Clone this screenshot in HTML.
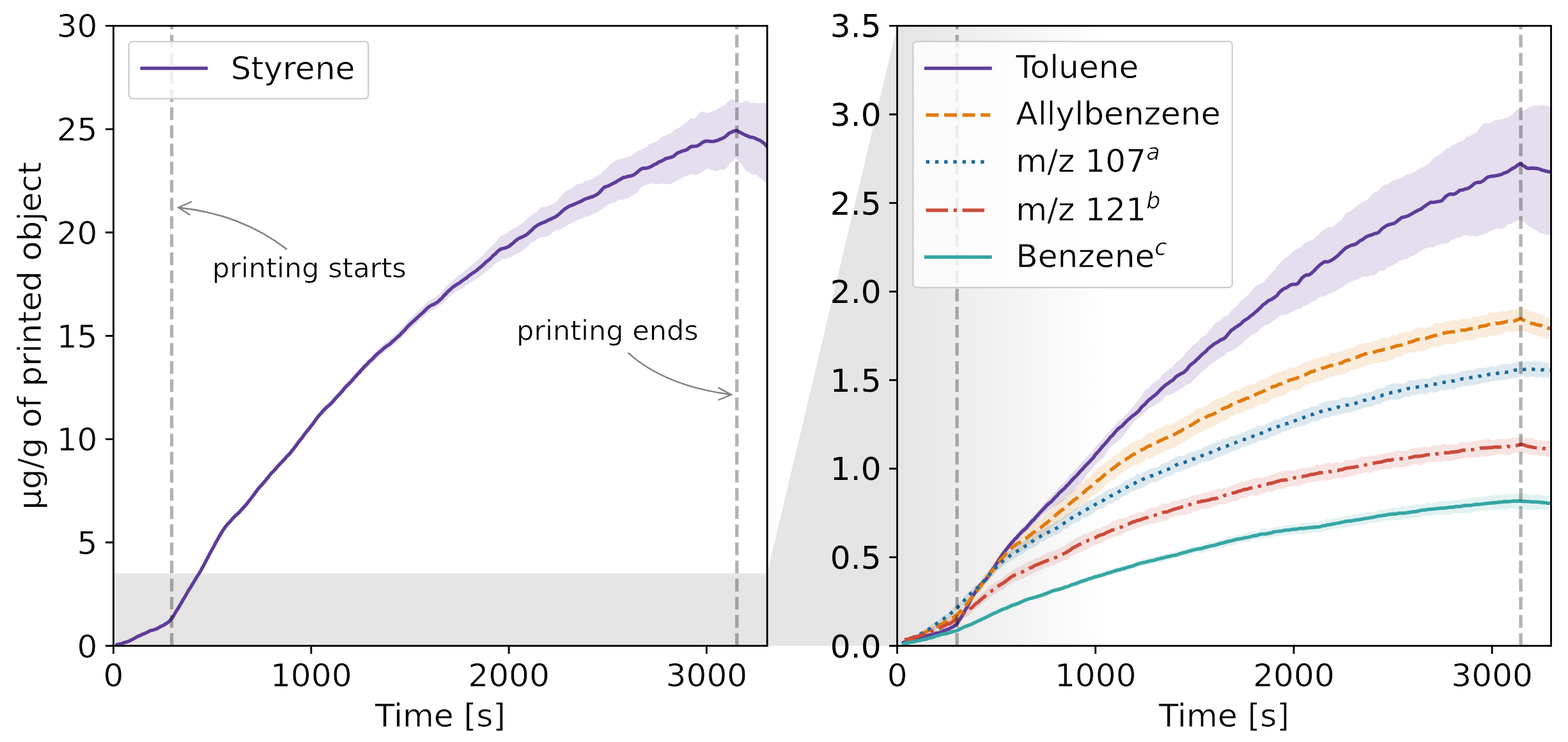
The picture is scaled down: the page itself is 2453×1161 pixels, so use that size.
<!DOCTYPE html>
<html><head><meta charset="utf-8"><title>Emission plot</title>
<style>html,body{margin:0;padding:0;background:#fff;}body{width:2453px;height:1161px;overflow:hidden;}svg{display:block;}</style>
</head><body>
<svg width="2453" height="1161" viewBox="0 0 2453 1161">
<defs>
<linearGradient id="gr" gradientUnits="userSpaceOnUse" x1="1403.6" y1="0" x2="1735" y2="0"><stop offset="0" stop-color="#e5e5e5"/><stop offset="1" stop-color="#ffffff"/></linearGradient>
<clipPath id="c1"><rect x="177.5" y="40.4" width="1022.7" height="970.1"/></clipPath>
<clipPath id="c2"><rect x="1403.6" y="40.4" width="1022.9" height="970.1"/></clipPath>
</defs>
<rect width="2453" height="1161" fill="#ffffff"/>
<polygon points="1200.2,897.3 1403.6,40.4 1403.6,1010.5 1200.2,1010.5" fill="#e5e5e5"/>
<g clip-path="url(#c1)">
<rect x="177.5" y="897.3" width="1022.7" height="113.2" fill="#e5e5e5"/>
<polygon points="183.5,1008 188.5,1006.6 193.5,1004.8 198.5,1003.9 203.5,1001.6 208.5,998.1 213.5,995.3 218.5,993.3 223.5,990.7 228.5,988.7 233.5,986 238.5,984.4 243.5,983.2 248.5,980.1 253.5,977.6 258.5,974.7 263.5,971.6 268.5,966.1 273.5,957.7 278.5,950.6 283.5,941.1 288.5,932.9 293.5,924.3 298.5,916.6 303.5,907.8 308.5,899.2 313.5,891.1 318.5,882.2 323.5,872.4 328.5,862.6 333.5,853.9 338.5,844.2 343.5,836.3 348.5,827 353.5,820.8 358.5,814.9 363.5,809.1 368.5,803.1 373.5,799.1 378.5,793.2 383.5,787.5 388.5,781.7 393.5,775.6 398.5,768.5 403.5,762 408.5,755.9 413.5,750.7 418.5,744.3 423.5,737.2 428.5,732.5 433.5,726.4 438.5,721.2 443.5,715.6 448.5,710.4 453.5,705.5 458.5,698.3 463.5,692.2 468.5,685.4 473.5,679.7 478.5,671.8 483.5,666 488.5,659.3 493.5,652.2 498.5,646.5 503.5,640 508.5,634.9 513.5,629.9 518.5,625.6 523.5,620 528.5,614.6 533.5,608.5 538.5,602.6 543.5,597.6 548.5,591.9 553.5,587 558.5,580.5 563.5,575.5 568.5,569.1 573.5,563.9 578.5,559 583.5,553.9 588.5,549 593.5,544.1 598.5,539.4 603.5,535.7 608.5,531.6 613.5,527 618.5,523.3 623.5,517.9 628.5,513.1 633.5,507.9 638.5,501.4 643.5,497.6 648.5,491.9 653.5,487.6 658.5,482.3 663.5,477.9 668.5,472.6 673.5,469.2 678.5,466.7 683.5,463.2 688.5,458.5 693.5,453 698.5,447.5 703.5,442.4 708.5,438.6 713.5,434.6 718.5,430.6 723.5,426.7 728.5,422.6 733.5,418.5 738.5,414.3 743.5,410.6 748.5,405.9 753.5,401.8 758.5,395.6 763.5,390.9 768.5,386 773.5,381.2 778.5,375.3 780,372.8 784,368.6 788,366.9 791.9,365.8 795.9,362.4 799.9,359.5 803.9,357.1 807.8,356.1 811.8,352.1 815.8,350.2 819.8,347.4 823.8,342.8 827.7,340.1 831.7,336.9 835.7,333.6 839.7,332 843.7,327.1 847.6,323.5 851.6,324.3 855.6,323 859.6,321.3 863.5,320 867.5,317.3 871.5,315.2 875.5,309.4 879.5,304.4 883.4,300.9 887.4,297.5 891.4,296.1 895.4,294.4 899.3,291.1 903.3,288.1 907.3,287.6 911.3,287 915.3,283 919.2,282.2 923.2,281.4 927.2,279.4 931.2,276.3 935.2,275.3 939.1,273 943.1,268.2 947.1,265.3 951.1,260.8 955,256.4 959,253.9 963,251.6 967,249.6 971,248.4 974.9,247.5 978.9,246.7 982.9,245.4 986.9,244 990.8,241.8 994.8,238.4 998.8,235.4 1002.8,234.3 1006.8,232.3 1010.7,230.5 1014.7,226.6 1018.7,223.7 1022.7,223.3 1026.7,221 1030.6,218.9 1034.6,215 1038.6,212.7 1042.6,212 1046.5,209.7 1050.5,208.4 1054.5,204.1 1058.5,201.6 1062.5,200.1 1066.4,196.7 1070.4,194.3 1074.4,190.9 1078.4,187.1 1082.3,184.8 1086.3,185.8 1090.3,181.9 1094.3,177.1 1098.3,174.2 1102.2,175.5 1106.2,177.3 1110.2,175.9 1114.2,174.1 1118.2,173.2 1122.1,170.3 1126.1,167.9 1130.1,166.2 1134.1,164.1 1138,160 1142,157.1 1146,154.5 1149.8,157.3 1153.7,159.1 1157.5,161 1161.3,160.7 1165.2,158 1169,157.2 1172.9,160.4 1176.8,161 1180.7,160.5 1184.6,161.3 1188.5,161.4 1192.4,161.3 1196.3,161 1200.2,163.4 1200.2,287.4 1196.1,284.4 1192,279.4 1187.8,276.9 1183.7,273.5 1179.6,272.8 1175.5,272 1171.4,269.3 1167.3,267.4 1163.2,261.4 1159,255.3 1154.9,251.7 1150.8,247.2 1146.8,251.7 1142.8,255.4 1138.8,260.4 1134.9,264.4 1130.9,266.1 1126.9,265.8 1122.9,267.3 1118.9,267.3 1114.9,266 1110.9,265.8 1106.9,263.6 1103,265.2 1099,268.5 1095,271.1 1091,273.4 1087,273 1083,272 1079,272.9 1075,275.2 1071.1,275.9 1067.1,279.1 1063.1,280.2 1059.1,282.3 1055.1,285.2 1051.1,287 1047.1,288.1 1043.1,288.3 1039.2,287.7 1035.2,286.9 1031.2,288.3 1027.2,288.1 1023.2,288.4 1019.2,286.5 1015.2,287.8 1011.3,289.2 1007.3,290.8 1003.3,293.1 999.3,297.6 995.3,303.4 991.3,304.8 987.3,307.1 983.3,309.9 979.4,310.6 975.4,312.4 971.4,312.3 967.4,313.1 963.4,315.8 959.4,318.1 955.4,318.3 951.4,320.3 947.5,323.1 943.5,325.8 939.5,329.3 935.5,331.8 931.5,333.2 927.5,335.1 923.5,337.2 919.5,338.6 915.6,339.1 911.6,342.3 907.6,342.4 903.6,344.3 899.6,346.6 895.6,347.9 891.6,350.1 887.7,352.2 883.7,354.5 879.7,356.7 875.7,359.7 871.7,359.1 867.7,361.3 863.7,364.5 859.7,368.3 855.8,369.6 851.8,370.9 847.8,371.5 843.8,371.7 839.8,374.6 835.8,377.7 831.8,378.5 827.8,383.1 823.9,387.5 819.9,390.4 815.9,392.5 811.9,395.9 807.9,397.2 803.9,398.8 799.9,402.1 795.9,403.2 792,405.2 788,405 784,406.5 780,409.7 778.5,410.1 773.5,414.1 768.5,419 763.5,421.9 758.5,426.4 753.5,430.4 748.5,433.9 743.5,436.9 738.5,440.6 733.5,444 728.5,447.1 723.5,450.9 718.5,453.9 713.5,456.2 708.5,459.8 703.5,463.7 698.5,468.6 693.5,473.4 688.5,477.6 683.5,482 678.5,484.5 673.5,486.9 668.5,490.6 663.5,496 658.5,499.5 653.5,504.7 648.5,509.3 643.5,513.5 638.5,517.3 633.5,523.2 628.5,528 623.5,532.8 618.5,537.2 613.5,541.5 608.5,546.2 603.5,548.8 598.5,553.6 593.5,556.9 588.5,561.1 583.5,566.9 578.5,571.4 573.5,576 568.5,581.2 563.5,586.5 558.5,591.4 553.5,597.4 548.5,602.6 543.5,607.6 538.5,613.4 533.5,618.5 528.5,624.3 523.5,629.9 518.5,635.1 513.5,639.6 508.5,644.2 503.5,650.3 498.5,654.8 493.5,662 488.5,668.5 483.5,675.1 478.5,680.4 473.5,688 468.5,694.1 463.5,700.2 458.5,707.3 453.5,713.2 448.5,718.7 443.5,724.1 438.5,729.3 433.5,734.5 428.5,740.1 423.5,745 418.5,752 413.5,757.8 408.5,762.8 403.5,768.5 398.5,774.9 393.5,781.6 388.5,788.9 383.5,795 378.5,799.6 373.5,804.9 368.5,809.1 363.5,815.1 358.5,820.1 353.5,826.3 348.5,833.5 343.5,840.8 338.5,849.9 333.5,858.9 328.5,868.1 323.5,878.2 318.5,886.7 313.5,896.7 308.5,904.4 303.5,912.7 298.5,920.6 293.5,928.2 288.5,936.7 283.5,945.3 278.5,953.4 273.5,961.2 268.5,969.9 263.5,975.1 258.5,978.5 253.5,981.3 248.5,983.4 243.5,985.2 238.5,987.6 233.5,988.3 228.5,991.6 223.5,993.8 218.5,995.4 213.5,997.9 208.5,1000.9 203.5,1003.1 198.5,1005.8 193.5,1006.4 188.5,1008.5 183.5,1009.5" fill="#5e3c99" fill-opacity="0.17"/>
<polyline points="183.5,1008.6 186.5,1007.8 189.6,1007.2 192.6,1006.3 195.7,1005 198.7,1004.3 201.7,1003.3 204.8,1001.7 207.8,1000.2 210.9,998.5 213.9,996.6 216.9,995.3 220,994.1 223,992.3 226.1,991.4 229.1,989.8 232.1,988.3 235.2,986.7 238.2,986.2 241.2,985.2 244.3,984.2 247.3,982.8 250.4,980.8 253.4,979.4 256.4,978 259.5,975.8 262.5,974.1 265.6,971.2 268.6,967.6 271.6,963.4 274.6,958 277.6,953.6 280.6,948.4 283.6,943.4 286.6,938.2 289.6,933.3 292.6,928 295.6,922.7 298.6,918.4 301.6,913.1 304.6,908.5 307.6,903.1 310.6,898.7 313.6,893.8 316.6,888.4 319.6,882.8 322.6,877 325.5,871.6 328.5,865.6 331.5,860.2 334.5,855 337.5,849 340.5,843.9 343.5,838.7 346.5,833.4 349.5,828.7 352.5,824.5 355.5,820.7 358.5,817.8 361.5,814.3 364.5,810.8 367.5,807.6 370.5,805 373.5,802.4 376.5,799 379.5,795.6 382.5,792.4 385.5,789.2 388.5,785.1 391.5,781.5 394.5,777.5 397.5,773.6 400.5,769.3 403.5,765.3 406.5,761.7 409.5,758.8 412.5,755.1 415.5,751.7 418.5,747.9 421.5,744.1 424.5,740.4 427.5,737.6 430.5,734.4 433.5,730.7 436.4,727.6 439.4,724.4 442.4,721.4 445.4,718.3 448.4,714.6 451.4,711.7 454.4,708.4 457.4,704.5 460.4,700.9 463.4,696.8 466.4,692.7 469.4,688.6 472.4,685.3 475.4,680.9 478.4,676.7 481.4,673.4 484.4,669.7 487.4,665.6 490.4,662 493.4,657.4 496.4,653.4 499.4,649.7 502.4,646.4 505.4,643 508.4,639.8 511.4,636.9 514.4,634.5 517.4,631.8 520.4,628.7 523.4,625.2 526.4,621.6 529.4,618.8 532.4,615.4 535.4,612.2 538.4,608.3 541.4,604.8 544.4,602.1 547.3,599.1 550.3,596 553.3,592.5 556.3,588.9 559.3,585.7 562.3,582.7 565.3,579 568.3,575.9 571.3,572.6 574.3,569.9 577.3,566.3 580.3,563.7 583.3,561.2 586.3,557.5 589.3,554.7 592.3,552 595.3,549.6 598.3,547 601.3,544.3 604.3,541.9 607.3,540.2 610.3,538.1 613.3,535.1 616.3,532.4 619.3,529.8 622.3,527.1 625.3,524.5 628.3,521.1 631.3,518.4 634.3,515.1 637.3,511.4 640.3,508.5 643.3,505.6 646.3,503 649.3,500.2 652.3,497.4 655.3,494.6 658.2,492 661.2,489.5 664.2,486.6 667.2,483.2 670.2,480.7 673.2,478.6 676.2,477 679.2,475.9 682.2,474 685.2,472.2 688.2,469.2 691.2,466.6 694.2,463 697.2,460 700.2,456.6 703.2,454 706.2,451.3 709.2,448.7 712.2,446.8 715.2,444.7 718.2,443.2 721.2,440.7 724.2,438.6 727.2,436.4 730.2,434.6 733.2,431.7 736.2,429.7 739.2,427.4 742.2,425.4 745.2,423.5 748.2,420.7 751.2,418.5 754.2,415.9 757.2,413.3 760.2,410.1 763.2,407.9 766.1,405.6 769.1,402.5 772.1,399.4 775.1,397.1 778.1,393.8 781.1,391.2 784.1,389.4 787.1,388.9 790.1,388.1 793.1,386.9 796.1,385.6 799.1,383.1 802.1,380.8 805.1,378 808.1,375.5 811.1,373.4 814.1,372 817.1,370.6 820.1,369.1 823.1,367.7 826.1,365.3 829.1,362.6 832.1,359.7 835.1,356.8 838.1,354.3 841.1,352.1 844.1,350.6 847.1,349.2 850.1,348 853.1,347.1 856.1,345.2 859.1,343.9 862.1,342.5 865.1,341.1 868.1,339.7 871.1,337.9 874.1,335.5 877,333 880,330 883,327.5 886,325.3 889,323.6 892,321.9 895,321.2 898,319.7 901,318.4 904,317.1 907,315.8 910,314.5 913,312.4 916,311.2 919,310.2 922,309.3 925,308.1 928,307.5 931,305.9 934,304.2 937,302 940,298.6 943,295.3 946,292.6 949,291.8 952,290.8 955,289.2 958,287.7 961,286.2 964,284.6 967,282.4 970,281 973,279 976,277.5 979,277.1 982,276 985,275.7 987.9,274.8 990.9,274 993.9,271.9 996.9,269.3 999.9,266.9 1002.9,264.4 1005.9,263.2 1008.9,263.2 1011.9,263 1014.9,262.1 1017.9,260.9 1020.9,259.2 1023.9,257.3 1026.9,256.3 1029.9,254 1032.9,252.8 1035.9,251.4 1038.9,249.8 1041.9,247.9 1044.9,247.4 1047.9,246.5 1050.9,245.9 1053.9,244.4 1056.9,241.8 1059.9,239.3 1062.9,238.2 1065.9,236.9 1068.9,236 1071.9,235.1 1074.9,234 1077.9,231.7 1080.9,229.5 1083.9,229 1086.9,228.9 1089.9,228.6 1092.9,227.3 1095.9,225.3 1098.8,223 1101.8,221.5 1104.8,220.6 1107.8,220.9 1110.8,221.2 1113.8,221.4 1116.8,221.4 1119.8,220.3 1122.8,219.7 1125.8,218.1 1128.8,217.2 1131.8,215.7 1134.8,213.7 1137.8,211 1140.8,208.4 1143.8,207 1146.8,205.6 1149.8,204.6 1152.8,204.2 1155.8,206.1 1158.7,207.6 1161.7,209.2 1164.7,210.7 1167.6,211.9 1170.6,213.2 1173.5,214.5 1176.5,214.8 1179.5,215.5 1182.4,216.9 1185.4,218.4 1188.3,219.5 1191.3,221.3 1194.3,223.5 1197.2,226 1200.2,229.6" fill="none" stroke="#5e3c99" stroke-width="5.38" stroke-linejoin="round" stroke-linecap="square"/>
<line x1="268.6" y1="1010.5" x2="268.6" y2="40.4" stroke="#000" stroke-opacity="0.3" stroke-width="5.38" stroke-dasharray="19.8 8.57"/>
<line x1="1152.8" y1="1010.5" x2="1152.8" y2="40.4" stroke="#000" stroke-opacity="0.3" stroke-width="5.38" stroke-dasharray="19.8 8.57"/>
</g>
<g clip-path="url(#c2)">
<rect x="1403.6" y="40.4" width="1022.9" height="970.1" fill="url(#gr)"/>
<polygon points="1413.5,1004.3 1418.5,1001.8 1423.5,1000.6 1428.5,997.8 1433.5,996.8 1438.5,995.3 1443.5,995.5 1448.5,993.1 1453.5,991.6 1458.5,991 1463.5,988.4 1468.5,988.7 1473.5,985.8 1478.5,984.2 1483.5,981.7 1488.5,979.2 1493.5,976.7 1498.5,971.5 1503.5,963.1 1508.5,953.7 1513.5,944.7 1518.5,936.1 1523.5,926.1 1528.5,919.2 1533.5,911.4 1538.5,907 1543.5,902.2 1548.5,893.3 1553.5,886.5 1558.5,879 1563.5,869.6 1568.5,862.3 1573.5,856.7 1578.5,849.1 1583.5,843.8 1588.5,837.7 1593.5,833.1 1598.5,826.3 1603.5,822.2 1608.5,816 1613.5,809.8 1618.5,805.5 1623.5,799.4 1628.5,793.8 1633.5,788.1 1638.5,782.5 1643.5,777.7 1648.5,771.8 1653.5,767.3 1658.5,760.2 1663.5,756.1 1668.5,750.5 1673.5,744.1 1678.5,738.8 1683.5,733.9 1688.5,727.7 1693.5,722 1698.5,717.3 1703.5,711 1708.5,707.1 1713.5,699.4 1718.5,693.9 1723.5,689.1 1728.5,682.5 1733.5,677 1738.5,670.9 1743.5,666.3 1748.5,660.6 1753.5,656.3 1758.5,650.4 1763.5,646.4 1768.5,640.4 1773.5,634.3 1778.5,628.8 1783.5,622.6 1788.5,615.3 1790,611.8 1794,608.9 1798,606.2 1802,600.9 1806,597.9 1810,595.6 1814,592.7 1818.1,586.5 1822.1,583.5 1826.1,580.1 1830.1,576.1 1834.1,574.2 1838.1,569.6 1842.1,565.2 1846.1,563 1850.1,558.8 1854.1,553.4 1858.1,548.8 1862.1,545.4 1866.1,539.8 1870.1,537.2 1874.2,534.4 1878.2,529.6 1882.2,526.8 1886.2,523.6 1890.2,518.7 1894.2,514.9 1898.2,509.1 1902.2,504.4 1906.2,504.1 1910.2,499.7 1914.2,495.5 1918.2,494.5 1922.2,491.8 1926.3,486.2 1930.3,482.6 1934.3,478.7 1938.3,475 1942.3,470.1 1946.3,467.6 1950.3,463.3 1954.3,459.4 1958.3,454.6 1962.3,450 1966.3,445.7 1970.3,445.3 1974.3,443.2 1978.4,439.9 1982.4,434.7 1986.4,430.1 1990.4,425.3 1994.4,421.3 1998.4,415.8 2002.4,411.8 2006.4,407.5 2010.4,403.5 2014.4,401.6 2018.4,398.1 2022.4,394.7 2026.4,390.9 2030.4,388.4 2034.5,387 2038.5,383.3 2042.5,379.5 2046.5,378.2 2050.5,375.9 2054.5,375 2058.5,370 2062.5,368.6 2066.5,362.5 2070.5,360 2074.5,357.4 2078.5,355.1 2082.5,355.7 2086.6,354.3 2090.6,350 2094.6,347.2 2098.6,344.1 2102.6,338 2106.6,333.3 2110.6,331.2 2114.6,329.2 2118.6,325.7 2122.6,322.4 2126.6,319.6 2130.6,315.7 2134.6,314.7 2138.7,313.1 2142.7,308.8 2146.7,303.4 2150.7,300.7 2154.7,299.6 2158.7,295.9 2162.7,291.8 2166.7,288.8 2170.7,288.1 2174.7,286.1 2178.7,282.7 2182.7,281.2 2186.7,280 2190.7,279.2 2194.8,277.3 2198.8,273.8 2202.8,272.6 2206.8,271.5 2210.8,269.8 2214.8,267.7 2218.8,265 2222.8,262.5 2226.8,261.5 2230.8,258.8 2234.8,256.5 2238.8,251.8 2242.8,247.4 2246.9,244.3 2250.9,242.6 2254.9,240.2 2258.9,235.9 2262.9,232.3 2266.9,232 2270.9,226.9 2274.9,226.3 2278.9,224.2 2282.9,221.3 2286.9,220.8 2290.9,218.4 2294.9,213.7 2299,213.9 2303,210.5 2307,209 2311,206.1 2315,200.1 2319,195.4 2323,191.9 2327,192.7 2331,192.9 2335,190.3 2339,188 2343,187.1 2347,187.3 2351,186 2355.1,184.7 2359.1,183.2 2363.1,180.5 2367.1,178.5 2371.1,173.2 2375.1,169.9 2379.1,172.6 2383,173.5 2387,171.4 2390.9,168.3 2394.9,166.7 2398.8,165.2 2402.8,165.2 2406.8,165.4 2410.7,164.9 2414.7,164.6 2418.6,165.3 2422.6,165.6 2426.5,168.9 2426.5,369.6 2422.6,366.8 2418.6,367.8 2414.7,365.4 2410.7,365.6 2406.8,363.5 2402.8,360.1 2398.8,358.4 2394.9,356 2390.9,353.5 2387,349.2 2383,346.9 2379.1,344.7 2375.1,344.8 2371.1,346.8 2367.1,348.1 2363.1,350.6 2359.1,350.3 2355.1,355.2 2351.1,357.5 2347.1,358 2343.1,357.3 2339.1,358 2335.1,360.6 2331.1,361.6 2327.1,364.5 2323.1,365.5 2319.1,367.8 2315.1,368.1 2311.1,369.9 2307.1,369.8 2303.1,369.3 2299.1,369.7 2295.1,367.5 2291.1,368.4 2287.1,369.9 2283.1,372.1 2279.1,372.1 2275.1,373.9 2271.1,375.3 2267.1,379.2 2263.1,380.8 2259,381.1 2255,380.7 2251,383.4 2247,383.7 2243,386.9 2239,387.4 2235,386.8 2231,388.2 2227,389.7 2223,393.2 2219,394.4 2215,397.9 2211,400 2207,400.7 2203,404.1 2199,405.6 2195,406.8 2191,406.9 2187,409.2 2183,413.2 2179,415.3 2175,416.7 2171,418.3 2167,422.2 2163,423 2159,423.1 2155,426.7 2151,430 2147,431.4 2143,431 2139,433.8 2135,432.7 2131,433.5 2127,435.8 2123,437.3 2119,438.4 2115,439.7 2111,441.7 2107,444.1 2103,446.8 2099,450.1 2095,452.2 2091,454.9 2087,456.6 2083,458.5 2079,459.3 2075,462.6 2071,463 2067,464 2063,465.6 2059,470.1 2055,471 2051,472.5 2047,476.9 2043,478.3 2039,478.7 2035,483.3 2031,483.3 2027,483.9 2022.9,487.2 2018.9,488.4 2014.9,491.2 2010.9,492.7 2006.9,492.7 2002.9,494.1 1998.9,496.4 1994.9,500.4 1990.9,502.3 1986.9,505.9 1982.9,508.3 1978.9,508.5 1974.9,511.7 1970.9,515.1 1966.9,519.3 1962.9,521.7 1958.9,523.1 1954.9,526.7 1950.9,530.6 1946.9,532.4 1942.9,538.3 1938.9,540.6 1934.9,544.3 1930.9,546.2 1926.9,548.7 1922.9,549.9 1918.9,552.6 1914.9,556.9 1910.9,557.5 1906.9,561.2 1902.9,564.2 1898.9,566 1894.9,569.7 1890.9,572.4 1886.9,576.5 1882.9,579.5 1878.9,583 1874.9,586.4 1870.9,591.2 1866.9,595 1862.9,599.5 1858.9,600.9 1854.9,602.3 1850.9,607.2 1846.9,608.1 1842.9,611.6 1838.9,612.9 1834.9,616.3 1830.9,617.7 1826.9,617.6 1822.9,620.3 1818.9,624.5 1814.9,629.1 1810.9,631.4 1806.9,633.6 1802.9,636.6 1798.9,637.8 1794.9,641.9 1790.9,645.5 1786.9,649.6 1782.8,653 1778.8,656 1774.8,659.2 1770.8,664.2 1766.8,669.3 1762.8,675.2 1758.8,679.8 1754.8,685.2 1750.8,688.7 1746.8,692.4 1742.8,695 1738.8,698.2 1734.8,702.6 1730.8,708.4 1726.8,715.3 1722.8,719.3 1718.8,722.5 1714.8,725.7 1710.8,730.2 1706.8,735.7 1702.8,739.2 1698.8,745.1 1694.8,750.6 1690.8,756.3 1686.8,759.3 1682.8,765.5 1678.8,769.4 1674.8,773 1670.8,776.1 1666.8,780 1663.5,783.5 1658.5,786.1 1653.5,790.5 1648.5,793.3 1643.5,796.5 1638.5,800.2 1633.5,803.9 1628.5,809 1623.5,813.4 1618.5,819.4 1613.5,823.4 1608.5,829.2 1603.5,833.6 1598.5,836.4 1593.5,842.9 1588.5,847.5 1583.5,852.5 1578.5,859.7 1573.5,864.6 1568.5,871.5 1563.5,878.8 1558.5,887.4 1553.5,894.3 1548.5,901.4 1543.5,908.9 1538.5,914 1533.5,919.7 1528.5,925.1 1523.5,933 1518.5,943.1 1513.5,952 1508.5,960.2 1503.5,968.2 1498.5,976.5 1493.5,981.3 1488.5,984.5 1483.5,987.1 1478.5,989.4 1473.5,990.3 1468.5,993.3 1463.5,993.6 1458.5,995.1 1453.5,995.5 1448.5,997.4 1443.5,997.4 1438.5,999.7 1433.5,1000.6 1428.5,1001.6 1423.5,1002.9 1418.5,1004.8 1413.5,1006.5" fill="#5e3c99" fill-opacity="0.17"/>
<polygon points="1414,1004.4 1419,1004.5 1424,999.2 1429,995.3 1434,994.1 1439,989.2 1444,986.5 1449,986.1 1454,984.6 1459,980.9 1464,976.5 1469,974.4 1474,970.4 1479,966.8 1484,965.5 1489,962.1 1494,958.2 1499,954 1504,950.1 1509,943.3 1514,935.5 1519,928.8 1524,923.7 1529,917 1534,911.1 1539,899.5 1544,895.7 1549,889.4 1554,879.5 1559,874.9 1564,865.2 1569,862.9 1574,853.3 1579,847.8 1584,845.6 1589,840.3 1594,835.7 1599,832 1604,828 1609,824.9 1614,823.6 1619,817.4 1624,813.4 1629,812.1 1634,804.7 1639,801.3 1644,799 1649,792.8 1654,787 1659,783.5 1664,780.5 1669,778.6 1674,772 1679,765.9 1684,765.1 1689,757.7 1694,755.8 1699,748.7 1704,747.7 1709,741.8 1714,735.6 1719,732.2 1724,728.2 1729,724.7 1734,719 1739,714.9 1744,713.2 1749,709.1 1754,706.9 1759,700.4 1764,698.5 1769,693.8 1774,692.4 1779,688.3 1784,688.2 1789,684.6 1794,679.1 1799,676.7 1804,676.8 1809,671.5 1814,670.8 1819,668 1824,664.4 1829,665.3 1834,663.3 1839,661 1844,656.3 1849,655.8 1854,651.3 1859,650.1 1864,646.3 1869,643 1874,637.7 1879,638.8 1884,636.2 1889,633.5 1894,630.3 1899,626.6 1904,623.8 1909,622.7 1914,621 1919,618.9 1924,614.8 1929,612.3 1934,609.6 1939,610.5 1944,606.4 1949,603.9 1954,602 1959,601.6 1964,600.1 1969,596.5 1974,593 1979,593.6 1984,590.9 1989,586.6 1994,585.5 1999,582.4 2004,582.6 2009,579.1 2014,579.4 2019,573.9 2024,575.8 2029,573.6 2034,570.4 2039,567.3 2044,566.8 2049,565.5 2054,561.3 2059,561.1 2064,559.3 2069,558.8 2074,557.1 2079,554.3 2084,551.4 2089,552.9 2094,549.7 2099,550.3 2104,547.2 2109,545 2114,544.8 2119,543.2 2124,538.8 2129,538.6 2134,535.9 2139,536.4 2144,536.1 2149,533.8 2154,532.3 2159,531 2164,527.8 2169,529.9 2174,527.1 2179,524.6 2184,524.9 2189,520.8 2194,521.6 2199,519.3 2204,519.1 2209,517.6 2214,513.9 2219,511.9 2224,513.3 2229,513.5 2234,512.2 2239,510.5 2244,506.1 2249,505.6 2254,505.7 2259,504.7 2264,501.7 2269,503.3 2274,500.1 2279,502.7 2284,500.1 2289,498.8 2294,498.7 2299,498.9 2304,495.8 2309,495.3 2314,494.8 2319,492.9 2324,493.7 2329,489.2 2334,488.4 2339,489.7 2344,488.3 2349,485.8 2354,488.1 2359,486.4 2364,484.1 2369,485.3 2374,482.1 2379,479.3 2384,482 2389,484.5 2394,487.5 2399,488.3 2404,490.7 2409,490.4 2414,493.8 2419,496.3 2424,497.6 2424,530.1 2419,530.4 2414,528.4 2409,527.1 2404,524.3 2399,523.5 2394,522.2 2389,519.4 2384,518.7 2379,517 2374,518.3 2369,519 2364,519.4 2359,518.6 2354,520.2 2349,522.8 2344,522.9 2339,525.4 2334,525 2329,525.4 2324,528.9 2319,527.8 2314,527.7 2309,530.5 2304,532.8 2299,532.5 2294,531.9 2289,534.2 2284,534.1 2279,536.5 2274,538.2 2269,539.1 2264,537.5 2259,539.2 2254,540.9 2249,543 2244,543 2239,542.8 2234,546.1 2229,548.6 2224,549.8 2219,547.6 2214,551.5 2209,550.9 2204,551.9 2199,553.3 2194,558.3 2189,558.1 2184,558.8 2179,562.8 2174,564 2169,565.8 2164,566.5 2159,567.3 2154,568.7 2149,568 2144,570.2 2139,572.2 2134,572.8 2129,576 2124,576.4 2119,578.7 2114,577.9 2109,583 2104,584.2 2099,586.2 2094,586.6 2089,587.4 2084,590 2079,589.9 2074,591.9 2069,596.2 2064,596.3 2059,597.3 2054,597.9 2049,600.2 2044,602.2 2039,605 2034,609.6 2029,610.4 2024,609.8 2019,611.1 2014,614.7 2009,618.7 2004,619.6 1999,620.8 1994,622.4 1989,623.9 1984,629.6 1979,631.4 1974,632.3 1969,633.3 1964,636 1959,640 1954,640.9 1949,643.3 1944,646.2 1939,647.6 1934,647.4 1929,651.8 1924,651.8 1919,658.2 1914,658.2 1909,659.7 1904,664 1899,667.3 1894,669.9 1889,670.9 1884,672.8 1879,676.3 1874,678 1869,681.1 1864,683.3 1859,686.9 1854,690.8 1849,693.7 1844,695.6 1839,699.5 1834,701.1 1829,704 1824,704.3 1819,708.7 1814,709.8 1809,712 1804,715.9 1799,718.2 1794,716.5 1789,721.7 1784,724.2 1779,727.6 1774,727.6 1769,731.4 1764,733.5 1759,737.7 1754,740.2 1749,743.8 1744,750.1 1739,751.1 1734,756.6 1729,758.7 1724,765.5 1719,768.9 1714,773.8 1709,774.9 1704,780.7 1699,785.7 1694,790.1 1689,790.6 1684,797.4 1679,798.1 1674,805.1 1669,808.2 1664,811.9 1659,815.7 1654,819.3 1649,821.8 1644,826.7 1639,830.6 1634,836.9 1629,839.6 1624,842.1 1619,847.2 1614,850.1 1609,851.8 1604,855.5 1599,860 1594,863 1589,864.3 1584,866.9 1579,870.7 1574,876.1 1569,883.8 1564,887.1 1559,893.2 1554,901.3 1549,905.9 1544,912.1 1539,917.8 1534,927.4 1529,931.2 1524,937.6 1519,942.6 1514,949.1 1509,956.1 1504,962.6 1499,965.2 1494,970.2 1489,973.4 1484,977.4 1479,978.3 1474,979.8 1469,981.2 1464,984 1459,988.3 1454,991.5 1449,989.9 1444,995.3 1439,995.4 1434,999.6 1429,1000.9 1424,1003.3 1419,1005.9 1414,1007.4" fill="#e07b0a" fill-opacity="0.15"/>
<polygon points="1414,1003.8 1419,1001.5 1424,997 1429,994.8 1434,993.2 1439,989.9 1444,986.4 1449,983.2 1454,979.7 1459,975.2 1464,972.7 1469,970.5 1474,964.3 1479,961.8 1484,959.9 1489,952.7 1494,948.4 1499,945 1504,939.9 1509,932.6 1514,927.9 1519,922.9 1524,917.8 1529,914.3 1534,909.9 1539,902.7 1544,897.6 1549,889.6 1554,884.2 1559,880.6 1564,873.4 1569,870 1574,865.9 1579,862 1584,857.4 1589,854.3 1594,850.6 1599,848.4 1604,844 1609,841.2 1614,838.2 1619,835 1624,831.1 1629,828.4 1634,826.8 1639,822 1644,821.9 1649,817.8 1654,814.2 1659,813.6 1664,808.7 1669,804.6 1674,802.7 1679,797.5 1684,795.8 1689,791.9 1694,790.2 1699,786 1704,783.2 1709,781.6 1714,778.8 1719,775 1724,773.5 1729,768.5 1734,766.5 1739,764.2 1744,762.1 1749,760.6 1754,756.8 1759,753 1764,751.3 1769,747.5 1774,746.1 1779,741 1784,742.1 1789,739.2 1794,735.9 1799,733.3 1804,731.9 1809,731.6 1814,728.2 1819,724.7 1824,724.2 1829,721.1 1834,718.8 1839,715.3 1844,713.5 1849,713.6 1854,712.6 1859,707.9 1864,707.1 1869,706.4 1874,703.6 1879,703.1 1884,698.8 1889,697.1 1894,695.1 1899,693.7 1904,691.1 1909,689.7 1914,686.5 1919,687.1 1924,682.7 1929,682.3 1934,680.7 1939,679.2 1944,676.4 1949,675.4 1954,673 1959,670.5 1964,668.8 1969,666.5 1974,666.6 1979,665.1 1984,660.8 1989,660.4 1994,656.4 1999,656.5 2004,654.2 2009,651.8 2014,650.3 2019,648.1 2024,648 2029,644.1 2034,644.1 2039,640.1 2044,640.2 2049,636.7 2054,635.8 2059,635.6 2064,632.2 2069,629.8 2074,628.7 2079,627.6 2084,626.8 2089,625.5 2094,625.8 2099,622 2104,622.3 2109,621.8 2114,621.4 2119,619.8 2124,618 2129,615.8 2134,615.1 2139,614.2 2144,613.1 2149,612.1 2154,608.3 2159,608 2164,606.9 2169,603.1 2174,601.8 2179,600.3 2184,599.9 2189,599.9 2194,599.9 2199,598.9 2204,594.9 2209,595.1 2214,595 2219,593.5 2224,591.9 2229,592.2 2234,592.4 2239,590.7 2244,588.5 2249,588.8 2254,585.5 2259,586.4 2264,586.3 2269,584.5 2274,585.3 2279,583.4 2284,582.7 2289,580.1 2294,579.7 2299,578 2304,579.8 2309,576.9 2314,575.4 2319,575.9 2324,575.6 2329,574.2 2334,573.2 2339,574.2 2344,571.7 2349,569.8 2354,569.4 2359,569.8 2364,570.1 2369,566.9 2374,566.7 2379,566.8 2384,566.7 2389,564.8 2394,566.3 2399,564.9 2404,565.8 2409,565.6 2414,567.1 2419,567.5 2424,568.7 2424,591.2 2419,591.1 2414,591.1 2409,589.5 2404,591.5 2399,589.7 2394,589.4 2389,590.5 2384,589 2379,589.1 2374,591.1 2369,591.9 2364,592.2 2359,593.7 2354,593.8 2349,594.5 2344,595.6 2339,596.2 2334,597.3 2329,597.6 2324,599.7 2319,598.5 2314,601.3 2309,601.4 2304,603.2 2299,603.2 2294,604.3 2289,603.7 2284,606.4 2279,606.5 2274,609.7 2269,608.6 2264,610.1 2259,611.1 2254,610.1 2249,613 2244,614.4 2239,613 2234,615.8 2229,617.3 2224,615.4 2219,616.8 2214,618 2209,618.3 2204,621 2199,620.2 2194,623.3 2189,625 2184,625.6 2179,625.1 2174,625.7 2169,627.3 2164,628.8 2159,632.4 2154,632.2 2149,635.3 2144,636.6 2139,636.9 2134,637.8 2129,640.1 2124,641.3 2119,643.3 2114,644.5 2109,646.1 2104,646.1 2099,647.8 2094,649.1 2089,649.9 2084,650.4 2079,653.2 2074,653.1 2069,654.6 2064,658.2 2059,659.6 2054,659.3 2049,661.8 2044,664.1 2039,666.5 2034,666.8 2029,668.2 2024,670.1 2019,672.1 2014,674.2 2009,674.8 2004,677 1999,679.8 1994,681.9 1989,682.7 1984,686.3 1979,688.1 1974,689 1969,689.9 1964,693.8 1959,694 1954,696.6 1949,698.1 1944,699.4 1939,702 1934,704.6 1929,705.2 1924,707.7 1919,711.1 1914,711.1 1909,714.4 1904,716 1899,718.3 1894,721.2 1889,721.7 1884,722.4 1879,724.1 1874,727.7 1869,729.1 1864,729.9 1859,732.9 1854,734.5 1849,736.8 1844,738.1 1839,738.6 1834,743.3 1829,744.9 1824,746.5 1819,749.1 1814,751.6 1809,754 1804,754.8 1799,755.5 1794,759.6 1789,762.1 1784,764.7 1779,765.9 1774,768.3 1769,770.3 1764,773.3 1759,776.5 1754,778.3 1749,783.2 1744,784.8 1739,788.2 1734,788.3 1729,793.1 1724,795.7 1719,797.1 1714,799.5 1709,804.3 1704,807.2 1699,809.7 1694,809.7 1689,815.5 1684,817.6 1679,819.5 1674,823 1669,826.7 1664,827.8 1659,834 1654,836.1 1649,837 1644,840.4 1639,842.3 1634,846.6 1629,847 1624,852.3 1619,855.2 1614,858.2 1609,859.7 1604,863.4 1599,867.2 1594,868.8 1589,872.9 1584,875.4 1579,879.5 1574,882.4 1569,885.8 1564,890.9 1559,894.4 1554,899 1549,903.9 1544,911 1539,915.8 1534,921.7 1529,927.4 1524,928.7 1519,934.1 1514,939.1 1509,945.3 1504,948.3 1499,953.5 1494,958.4 1489,962.7 1484,968.4 1479,968.8 1474,974.6 1469,975.4 1464,979.7 1459,983.5 1454,988 1449,991 1444,992.4 1439,994.9 1434,997.2 1429,1000.3 1424,1001.5 1419,1002.9 1414,1006.9" fill="#1d6a9c" fill-opacity="0.15"/>
<polygon points="1415,997 1420,997.4 1425,994 1430,992.7 1435,992.6 1440,990.1 1445,987.3 1450,986.9 1455,982.4 1460,980.8 1465,980.6 1470,978.4 1475,975.7 1480,971.1 1485,969.7 1490,966.7 1495,962.6 1500,958.2 1505,955.8 1510,952.3 1515,947.4 1520,942.2 1525,938.3 1530,933.7 1535,929 1540,925.8 1545,920.2 1550,916.5 1555,912.5 1560,908.4 1565,907.3 1570,903.5 1575,897.6 1580,895.7 1585,892 1590,888.4 1595,887.2 1600,883.7 1605,881.9 1610,877.9 1615,877.3 1620,873.2 1625,872.4 1630,869.5 1635,867.2 1640,864.8 1645,862.8 1650,860.5 1655,859.5 1660,855.9 1665,854.4 1670,850.4 1675,847.4 1680,844.3 1685,841.1 1690,839.4 1695,835.9 1700,834.7 1705,832.6 1710,830.8 1715,827 1720,826.9 1725,823.6 1730,822.8 1735,819.8 1740,816.5 1745,815 1750,812.2 1755,811 1760,810.1 1765,808.5 1770,805.5 1775,803.5 1780,801.9 1785,801.8 1790,799.8 1795,796.8 1800,794.3 1805,794.2 1810,793.8 1815,789.8 1820,788.1 1825,788.1 1830,787 1835,783.4 1840,784.6 1845,782 1850,779.9 1855,778.8 1860,778.2 1865,775.5 1870,773.7 1875,773.4 1880,772.7 1885,769.9 1890,770.8 1895,767.7 1900,766.9 1905,764.9 1910,765.1 1915,763.6 1920,763 1925,759.2 1930,759.3 1935,756.4 1940,754.4 1945,755 1950,752.2 1955,751 1960,748.6 1965,748.2 1970,747.2 1975,747.3 1980,746.1 1985,743.7 1990,742.8 1995,741.5 2000,739.5 2005,737.6 2010,736.6 2015,736.1 2020,736.2 2025,735.9 2030,733.8 2035,732.4 2040,732.4 2045,732.7 2050,730.8 2055,730.4 2060,726.7 2065,728.1 2070,726.6 2075,725 2080,723.6 2085,725.6 2090,722.4 2095,723.4 2100,723 2105,718.9 2110,720.5 2115,719.4 2120,718.3 2125,716.9 2130,714.4 2135,715.2 2140,713.9 2145,713.1 2150,712.9 2155,711.7 2160,710.5 2165,710 2170,708.9 2175,707.9 2180,706.9 2185,704.5 2190,704.9 2195,705.8 2200,704.4 2205,703.7 2210,701.1 2215,700.1 2220,700.7 2225,699.7 2230,698.7 2235,700.1 2240,697.3 2245,696.6 2250,696.6 2255,695.8 2260,694.6 2265,696.1 2270,695.4 2275,695.2 2280,695.1 2285,691.3 2290,691.7 2295,692.7 2300,691.7 2305,690.5 2310,689.5 2315,689.2 2320,687.6 2325,687.3 2330,686.8 2335,688.9 2340,687.8 2345,686.4 2350,686.6 2355,687.6 2360,685.9 2365,685.1 2370,684.3 2375,685.1 2380,681.5 2385,684.9 2390,685.5 2395,685.2 2400,687.1 2405,689.5 2410,687.8 2415,690.1 2420,690.1 2425,690.1 2425,716 2420,714.5 2415,713.2 2410,714 2405,711.9 2400,711.9 2395,711.9 2390,709.7 2385,708.9 2380,708.7 2375,707.8 2370,708.3 2365,710.5 2360,711.9 2355,712.4 2350,710.7 2345,711 2340,711.3 2335,712 2330,714.1 2325,714.2 2320,714.1 2315,715.5 2310,715.7 2305,715.3 2300,716.1 2295,716.2 2290,717 2285,718.4 2280,718.4 2275,720.8 2270,720.9 2265,722.5 2260,720.5 2255,723.2 2250,721.9 2245,723 2240,722.8 2235,722.9 2230,723.9 2225,727.3 2220,728.2 2215,726.2 2210,727 2205,729.8 2200,729.9 2195,731.9 2190,731.6 2185,731.3 2180,731.6 2175,734.2 2170,732.7 2165,734.2 2160,735.6 2155,736.4 2150,737 2145,739.5 2140,739.5 2135,739.2 2130,741.9 2125,741.6 2120,743.9 2115,744.7 2110,745.9 2105,747.1 2100,748.2 2095,748.4 2090,747.7 2085,750.2 2080,750.8 2075,751.7 2070,752.8 2065,751.9 2060,753.9 2055,754.2 2050,754.5 2045,755.8 2040,757.6 2035,759.9 2030,760.7 2025,760.6 2020,761.3 2015,761.8 2010,765 2005,764.8 2000,765.8 1995,766.4 1990,770 1985,768.9 1980,771.3 1975,771.9 1970,774.8 1965,775.7 1960,775 1955,775.3 1950,779.4 1945,779 1940,780.6 1935,783.4 1930,784.5 1925,785.3 1920,787.9 1915,789.5 1910,788.6 1905,790.2 1900,791.6 1895,795 1890,795.3 1885,796.3 1880,795.6 1875,799.2 1870,799.2 1865,801.8 1860,804 1855,805.3 1850,806.3 1845,806.7 1840,807.4 1835,809 1830,810.6 1825,814.7 1820,815 1815,816 1810,818.9 1805,819.1 1800,819.3 1795,821.7 1790,822.6 1785,824.1 1780,825.6 1775,827.8 1770,830.2 1765,831.2 1760,832.7 1755,837.4 1750,837.6 1745,839.7 1740,840.9 1735,843.3 1730,845.2 1725,849 1720,850.5 1715,852.5 1710,853.7 1705,856.5 1700,860.1 1695,860.7 1690,864.3 1685,865.5 1680,868.3 1675,870.6 1670,875.9 1665,875.9 1660,879.1 1655,881.3 1650,883.9 1645,884.6 1640,887.7 1635,888.2 1630,891.6 1625,893.3 1620,895.1 1615,898.1 1610,900.7 1605,903.1 1600,905.7 1595,906.7 1590,909.2 1585,909.6 1580,914.6 1575,916.4 1570,922.3 1565,923.5 1560,927.7 1555,930.3 1550,933.5 1545,938 1540,941.6 1535,945.7 1530,950.4 1525,953 1520,959 1515,962.9 1510,966 1505,970 1500,971.6 1495,976.4 1490,979.3 1485,983.2 1480,985 1475,986.9 1470,989.4 1465,991.4 1460,993.2 1455,993.1 1450,995.6 1445,996.7 1440,997.6 1435,998.8 1430,1000.5 1425,1001.2 1420,1004.5 1415,1004.4" fill="#cc4b3a" fill-opacity="0.15"/>
<polygon points="1413.5,1005.6 1418.5,1005.4 1423.5,1003.5 1428.5,1003.6 1433.5,1001.4 1438.5,1000.5 1443.5,998.8 1448.5,999.4 1453.5,996.5 1458.5,996 1463.5,994.1 1468.5,992 1473.5,990.1 1478.5,989.1 1483.5,989.6 1488.5,988.2 1493.5,986 1498.5,984.3 1503.5,981.6 1508.5,978.2 1513.5,977.8 1518.5,974.5 1523.5,972.1 1528.5,970.3 1533.5,968.6 1538.5,965.1 1543.5,963.5 1548.5,960.6 1553.5,957.7 1558.5,955.8 1563.5,953.1 1568.5,951.1 1573.5,949.1 1578.5,947.4 1583.5,943.5 1588.5,943.2 1593.5,939.9 1598.5,939.3 1603.5,935.9 1608.5,935.1 1613.5,932.7 1618.5,931.7 1623.5,929.5 1628.5,927.5 1633.5,927.5 1638.5,924.1 1643.5,922.2 1648.5,919.8 1653.5,918.8 1658.5,918.7 1663.5,915.8 1668.5,915.4 1673.5,913.1 1678.5,910.8 1683.5,909.9 1688.5,907.2 1693.5,905 1698.5,904.6 1703.5,902.1 1708.5,901.1 1713.5,897.8 1718.5,897 1723.5,895.3 1728.5,893.5 1733.5,891.4 1738.5,890.9 1743.5,888.9 1748.5,887.1 1753.5,886.3 1758.5,884.4 1763.5,883.7 1768.5,882.1 1773.5,880.7 1778.5,878 1783.5,877 1788.5,874.5 1793.5,873.7 1798.5,873.8 1803.5,871.2 1808.5,871.4 1813.5,868.4 1818.5,867.6 1823.5,867.2 1828.5,866.3 1833.5,864.8 1838.5,862.5 1843.5,862 1848.5,860 1853.5,858.8 1858.5,856.8 1863.5,855.2 1868.5,854.6 1873.5,854.2 1878.5,853.4 1883.5,851.8 1888.5,849.4 1893.5,847.9 1898.5,846.4 1903.5,846.8 1908.5,844.5 1913.5,843.2 1918.5,841.3 1923.5,839.4 1928.5,839.3 1933.5,837.5 1938.5,837.3 1943.5,835.1 1948.5,835.1 1953.5,833.4 1958.5,831.4 1963.5,830.6 1968.5,830.7 1973.5,827.8 1978.5,828.5 1983.5,827.9 1988.5,826.9 1993.5,824.7 1998.5,824.6 2003.5,823.9 2008.5,822.3 2013.5,821.5 2018.5,821.4 2023.5,820.2 2028.5,820.9 2033.5,818.5 2038.5,818.3 2043.5,817.9 2048.5,817.7 2053.5,817.3 2058.5,816.7 2063.5,816 2068.5,814.3 2073.5,813 2078.5,812.1 2083.5,812.2 2088.5,810.5 2093.5,809.9 2098.5,808.6 2103.5,808.4 2108.5,806.5 2113.5,807.6 2118.5,804.6 2123.5,805.3 2128.5,803.3 2133.5,802.2 2138.5,801.6 2143.5,801.3 2148.5,800.9 2153.5,799.5 2158.5,797.3 2163.5,798 2168.5,796.7 2173.5,795.7 2178.5,794.6 2183.5,793.9 2188.5,793.9 2193.5,792.5 2198.5,792.3 2203.5,791.6 2208.5,790.6 2213.5,790.6 2218.5,789 2223.5,789.4 2228.5,788.8 2233.5,786.6 2238.5,787.7 2243.5,786.4 2248.5,785.3 2253.5,784.1 2258.5,784.1 2263.5,783.9 2268.5,784.1 2273.5,782.8 2278.5,782.8 2283.5,781.4 2288.5,780.9 2293.5,780.5 2298.5,779.3 2303.5,779.4 2308.5,778 2313.5,777.6 2318.5,778.4 2323.5,776.2 2328.5,775.5 2333.5,775.1 2338.5,774.2 2343.5,774.8 2348.5,774.8 2353.5,772.7 2358.5,772.7 2363.5,773.3 2368.5,772.8 2373.5,772.2 2378.5,772 2383.5,771.6 2388.5,772.5 2393.5,773.2 2398.5,774.2 2403.5,773.4 2408.5,773.3 2413.5,774.7 2418.5,775.8 2423.5,775.3 2423.5,799 2418.5,798.5 2413.5,797.5 2408.5,797 2403.5,798.3 2398.5,798.2 2393.5,797.9 2388.5,797 2383.5,797.2 2378.5,795.6 2373.5,796.9 2368.5,795.7 2363.5,795.2 2358.5,797.3 2353.5,797.5 2348.5,797.3 2343.5,797.1 2338.5,798.5 2333.5,797.9 2328.5,798.2 2323.5,799.6 2318.5,799.1 2313.5,799.6 2308.5,800 2303.5,801.7 2298.5,802.7 2293.5,802.7 2288.5,803.3 2283.5,803.9 2278.5,803.1 2273.5,803.5 2268.5,805.2 2263.5,805.4 2258.5,804.7 2253.5,805.4 2248.5,805 2243.5,805.7 2238.5,807.6 2233.5,807.2 2228.5,807.7 2223.5,808.1 2218.5,810 2213.5,810.1 2208.5,810.8 2203.5,812.4 2198.5,812.5 2193.5,812.9 2188.5,813.3 2183.5,814.2 2178.5,813.6 2173.5,814.8 2168.5,814.5 2163.5,815.2 2158.5,817 2153.5,817.5 2148.5,818.2 2143.5,818.2 2138.5,819.6 2133.5,821.3 2128.5,822.1 2123.5,821.3 2118.5,822.5 2113.5,823.7 2108.5,824.6 2103.5,824.8 2098.5,825.5 2093.5,827 2088.5,827.3 2083.5,829.4 2078.5,828.8 2073.5,830.3 2068.5,831.9 2063.5,833.4 2058.5,833.1 2053.5,833.6 2048.5,832.8 2043.5,834.9 2038.5,835.4 2033.5,835 2028.5,835.3 2023.5,835.8 2018.5,837.2 2013.5,837.1 2008.5,838 2003.5,837.8 1998.5,839.2 1993.5,839 1988.5,841.7 1983.5,842.4 1978.5,841.8 1973.5,843.6 1968.5,843.6 1963.5,844.7 1958.5,845.6 1953.5,847.5 1948.5,848 1943.5,848.4 1938.5,849.7 1933.5,851.3 1928.5,852.9 1923.5,853.3 1918.5,855.2 1913.5,856.7 1908.5,857.7 1903.5,859.1 1898.5,859.1 1893.5,861.4 1888.5,861.7 1883.5,863.8 1878.5,865.2 1873.5,864.5 1868.5,865.1 1863.5,867.6 1858.5,869.6 1853.5,870.2 1848.5,871.9 1843.5,871.9 1838.5,874 1833.5,874.7 1828.5,875.3 1823.5,877.7 1818.5,879.2 1813.5,880.2 1808.5,880.8 1803.5,882.5 1798.5,883.6 1793.5,884 1788.5,885 1783.5,886.5 1778.5,888.7 1773.5,890.2 1768.5,890.6 1763.5,891.8 1758.5,893.4 1753.5,894.7 1748.5,896.3 1743.5,898.6 1738.5,899.8 1733.5,900.3 1728.5,903 1723.5,903.5 1718.5,905.1 1713.5,907.4 1708.5,908.6 1703.5,909.3 1698.5,911.8 1693.5,912.9 1688.5,915.6 1683.5,917.2 1678.5,918.4 1673.5,919.8 1668.5,921.5 1663.5,923.8 1658.5,924.7 1653.5,925.9 1648.5,927 1643.5,928.8 1638.5,932.2 1633.5,933.3 1628.5,934.6 1623.5,936.3 1618.5,937.8 1613.5,938.7 1608.5,940 1603.5,942.4 1598.5,944.2 1593.5,947.2 1588.5,948.7 1583.5,949.4 1578.5,953.1 1573.5,954 1568.5,955.4 1563.5,958.3 1558.5,960.8 1553.5,963.1 1548.5,964.7 1543.5,967 1538.5,969.4 1533.5,971.7 1528.5,974 1523.5,977.7 1518.5,979.3 1513.5,981.3 1508.5,982.2 1503.5,985.7 1498.5,987.1 1493.5,990.3 1488.5,990.8 1483.5,992.1 1478.5,992.8 1473.5,993.9 1468.5,996.3 1463.5,997.5 1458.5,998.1 1453.5,1000.6 1448.5,1001.2 1443.5,1001.8 1438.5,1003.9 1433.5,1004.7 1428.5,1005.8 1423.5,1005.9 1418.5,1008.2 1413.5,1009" fill="#35a6a3" fill-opacity="0.15"/>
<polyline points="1413.5,1005.5 1416.5,1004.3 1419.5,1002.8 1422.5,1002.9 1425.5,1001.3 1428.4,999.9 1431.4,999.5 1434.4,998.3 1437.4,998 1440.4,996.6 1443.4,996.5 1446.4,995.3 1449.4,994.7 1452.4,994.5 1455.3,993.7 1458.3,993.3 1461.3,992.5 1464.3,990.8 1467.3,990.7 1470.3,989.8 1473.3,988.3 1476.3,986.7 1479.3,986.1 1482.3,984.8 1485.2,983.9 1488.2,982.2 1491.2,980.6 1494.2,978.2 1497.2,976.1 1500.2,971.4 1503.2,966.3 1506.2,962.1 1509.2,956.2 1512.2,950.8 1515.2,945.3 1518.2,939.5 1521.2,933.5 1524.2,929 1527.2,924.3 1530.2,919.5 1533.2,915.5 1536.2,912.9 1539.2,909.4 1542.2,907 1545.2,902.9 1548.2,898.4 1551.2,893.5 1554.2,889 1557.2,884.9 1560.2,879.8 1563.2,875 1566.2,870.8 1569.2,866.3 1572.2,862.5 1575.2,858.7 1578.2,854.8 1581.2,851.3 1584.2,847.8 1587.2,843.8 1590.2,841.5 1593.2,837.8 1596.2,834.5 1599.2,831.3 1602.2,828.9 1605.2,826.3 1608.2,822.8 1611.2,819.4 1614.2,815.7 1617.2,813.3 1620.2,809.5 1623.2,806.4 1626.2,803 1629.2,799.7 1632.2,796.7 1635.2,793.4 1638.2,790.1 1641.2,787.6 1644.2,785.3 1647.2,782.4 1650.2,778.8 1653.2,776.1 1656.2,772.3 1659.2,769.4 1662.2,766.9 1665.2,764.3 1668.2,760.7 1671.2,757.9 1674.2,754.4 1677.2,751.1 1680.2,747.9 1683.2,745.3 1686.2,742 1689.2,738.4 1692.2,735.4 1695.2,732.1 1698.2,728.5 1701.2,725.7 1704.2,722.7 1707.2,719.3 1710.2,716.4 1713.2,711.9 1716.2,708.6 1719.2,705.5 1722.2,701.8 1725.2,698 1728.2,695.1 1731.2,691.6 1734.2,687.8 1737.2,683.9 1740.2,681.5 1743.2,677.8 1746.2,674.1 1749.2,671.1 1752.2,668.5 1755.2,666.8 1758.2,663.4 1761.2,660.3 1764.2,657.1 1767.2,654.8 1770.2,652.1 1773.2,649.7 1776.2,647.6 1779.2,645.1 1782.2,642.1 1785.2,637.9 1788.2,634.8 1791.2,632.5 1794.2,628.9 1797.2,625.9 1800.2,623.6 1803.2,621 1806.2,618.9 1809.2,616.3 1812.2,613.3 1815.2,610 1818.2,607 1821.2,604.4 1824.2,601.8 1827.2,600.2 1830.2,597.5 1833.2,595.9 1836.2,593.4 1839.2,590 1842.2,587.8 1845.2,586.2 1848.2,584.2 1851.2,583.2 1854.2,580.5 1857.2,577.7 1860.2,573.1 1863.2,570.2 1866.2,568.2 1869.2,565.9 1872.2,562.7 1875.2,560.1 1878.2,556.8 1881.2,553.8 1884.2,551.6 1887.2,549.1 1890.2,545.5 1893.2,543.1 1896.2,541.1 1899.2,538.3 1902.2,536.7 1905.2,535 1908.2,532.9 1911.2,531.1 1914.2,530.1 1917.2,527.8 1920.2,524.1 1923.2,520.4 1926.2,516.9 1929.2,515.1 1932.2,512.7 1935.2,510.7 1938.2,508.7 1941.1,506.8 1944.1,503.6 1947.1,501.2 1950.1,499.5 1953.1,497.4 1956.1,494.7 1959.1,492.7 1962.1,490 1965.1,487.5 1968.1,484.7 1971.1,482.1 1974.1,478.8 1977.1,476.1 1980.1,474.3 1983.1,471.4 1986.1,469.7 1989.1,468.4 1992.1,466.5 1995.1,464.4 1998.1,462.1 2001.1,457.7 2004.1,455.1 2007.1,452.6 2010.1,451.1 2013.1,449.9 2016.1,447.6 2019.1,445.9 2022.1,445 2025.1,444.9 2028.1,444.8 2031.1,442.9 2034.1,438.6 2037.1,434.7 2040.1,432.3 2043.1,430.5 2046.1,430.3 2049.1,429.4 2052.1,427.2 2055.1,424.4 2058.1,421.1 2061.1,418.1 2064.1,415.2 2067.1,412.8 2070.1,410.7 2073.1,409.3 2076.1,409.9 2079.1,409.1 2082.1,407.6 2085.1,406 2088.1,403.7 2091.1,401.5 2094.1,398.8 2097.1,395.6 2100.1,392.9 2103.1,390 2106.1,387.4 2109.1,386.2 2112.1,384.5 2115.1,383.5 2118.1,382.9 2121.1,381.9 2124.1,379.7 2127.1,377 2130.1,375.8 2133.1,373.7 2136.1,371.4 2139.1,369.7 2142.1,368.6 2145.1,367.7 2148.1,366.6 2151.1,365.3 2154.1,365 2157.1,363.2 2160.1,359.8 2163.1,357.1 2166.1,355.1 2169.1,353.2 2172.1,351.6 2175.1,351 2178.1,350.2 2181.1,349.6 2184.1,347.4 2187.1,344.7 2190.1,342.7 2193.1,340.3 2196.1,339.6 2199.1,339 2202.1,338 2205.1,336.5 2208.1,334.9 2211.1,333 2214.1,331.3 2217.1,329.7 2220.1,328.3 2223.1,327.1 2226.1,324.6 2229.1,322.5 2232.1,320.3 2235.1,318.4 2238.1,316.4 2241.1,316.7 2244.1,316.5 2247.1,315.8 2250.1,315.2 2253.1,314.9 2256.1,313.7 2259.1,310.3 2262.1,307.2 2265.1,305.2 2268.1,303.7 2271.1,303.6 2274.1,304.1 2277.1,302.7 2280.1,300.7 2283.1,298 2286.1,297.4 2289.1,297 2292.1,295.7 2295.1,295.1 2298.1,294 2301.1,291.9 2304.1,289.4 2307.1,286.8 2310.1,285.8 2313.1,285.2 2316.1,285.3 2319.1,283.5 2322.1,281.5 2325.1,278.8 2328.1,276.8 2331.1,276.2 2334.1,275.5 2337.1,275.8 2340.1,274.8 2343.1,274.6 2346.1,273.5 2349.1,272.9 2352.1,271 2355.1,270.2 2358.1,269 2361.1,267 2364.1,264.9 2367.1,263.2 2370.1,261.7 2373.1,259.4 2376.1,257.1 2379.1,255.9 2382.1,258.5 2385,260.1 2388,262.7 2390.9,263.6 2393.9,263.3 2396.9,263 2399.8,263.2 2402.8,263.5 2405.8,263.8 2408.7,264.5 2411.7,266 2414.7,266.7 2417.6,267.5 2420.6,268.1 2423.5,268.9 2426.5,269.2" fill="none" stroke="#5e3c99" stroke-width="5.38" stroke-linejoin="round" stroke-linecap="square"/>
<polyline points="1414,1005.9 1417,1005.3 1419.9,1004 1422.9,1001.5 1425.9,1000.3 1428.9,998.7 1431.8,997.4 1434.8,995.5 1437.8,993.9 1440.7,992.8 1443.7,991.2 1446.7,990 1449.7,988.1 1452.6,986.5 1455.6,985.8 1458.6,984.3 1461.5,982.9 1464.5,981.7 1467.5,979.8 1470.5,977.5 1473.4,976.6 1476.4,974.9 1479.4,973.4 1482.3,971.6 1485.3,970.3 1488.3,967.8 1491.3,966.2 1494.2,963.7 1497.2,961.9 1500.2,959.1 1503.1,955.5 1506.1,951.7 1509,948.6 1512,945.6 1515,942.1 1517.9,938.3 1520.9,934.8 1523.8,930.5 1526.8,926.5 1529.7,922.7 1532.7,919.6 1535.7,915.1 1538.6,910.8 1541.6,906.6 1544.5,902.4 1547.5,898.7 1550.5,895.2 1553.4,891.9 1556.4,887.5 1559.3,883.5 1562.3,879.5 1565.2,875.7 1568.2,872.8 1571.2,869.4 1574.1,865.8 1577.1,862.3 1580,860.1 1583,857 1586,855 1589,852.3 1592,850.4 1595,849 1598,846.9 1601,845.5 1604,842.6 1607,841.3 1610,838.3 1613,836.2 1616,833.4 1619,831.9 1622.1,829.8 1625.1,827.9 1628.1,825.5 1631.1,823.4 1634.1,820.6 1637.1,818.6 1640.1,816.1 1643.1,813.2 1646.1,811.4 1649.1,808.5 1652.1,805.6 1655.1,802.8 1658.1,800.7 1661.1,798 1664.1,796.5 1667.1,794.5 1670.1,791.3 1673.1,788.3 1676.1,786.1 1679.1,783.2 1682.1,781 1685.1,779.1 1688.1,776 1691.1,773.4 1694.2,771.5 1697.2,768.7 1700.2,765.8 1703.2,763.9 1706.2,761.5 1709.2,759.2 1712.2,756.5 1715.2,753.5 1718.2,751.2 1721.2,749.1 1724.2,746.5 1727.2,743.5 1730.2,740.9 1733.2,738.5 1736.2,736.6 1739.2,734.3 1742.2,731.9 1745.2,730.1 1748.2,727.1 1751.2,725.4 1754.2,723.1 1757.2,721.3 1760.2,719.9 1763.2,717.3 1766.3,716.1 1769.3,713.3 1772.3,711.6 1775.3,709.9 1778.3,707.8 1781.3,706.4 1784.3,704.8 1787.3,703.2 1790.3,702.1 1793.3,699.8 1796.3,698.4 1799.3,697.5 1802.3,695.4 1805.3,694.7 1808.3,692.7 1811.3,691.6 1814.3,689.7 1817.3,688.5 1820.3,687.1 1823.3,685.3 1826.3,684.6 1829.3,683.2 1832.3,682.1 1835.3,680.7 1838.4,679.2 1841.4,677.6 1844.4,675.6 1847.4,674.6 1850.4,672 1853.4,671 1856.4,669.5 1859.4,667.4 1862.4,665.8 1865.4,664 1868.4,662.1 1871.4,660 1874.4,658.2 1877.4,656.6 1880.4,655.1 1883.4,654.6 1886.4,652.8 1889.4,651.3 1892.4,649.9 1895.4,649.1 1898.4,647.6 1901.4,646.2 1904.4,644.4 1907.4,642.8 1910.5,640.9 1913.5,639.5 1916.5,638 1919.5,637.4 1922.5,635.8 1925.5,633.7 1928.5,632.4 1931.5,630.6 1934.5,629.6 1937.5,628.3 1940.5,627.6 1943.5,625.8 1946.5,625.1 1949.5,623.3 1952.5,622.9 1955.5,621.6 1958.5,619.5 1961.5,618.9 1964.5,617.2 1967.5,615.9 1970.5,614.3 1973.5,613.7 1976.5,611.8 1979.5,611 1982.6,609.4 1985.6,608.4 1988.6,606.6 1991.6,604.8 1994.6,604.4 1997.6,603.2 2000.6,601.3 2003.6,601 2006.6,600.1 2009.6,598.2 2012.6,596.4 2015.6,595.9 2018.6,594.4 2021.6,593.9 2024.6,592.8 2027.6,592 2030.6,590.8 2033.6,589.9 2036.6,588.9 2039.6,587.5 2042.6,586.2 2045.6,584.6 2048.6,582.9 2051.6,581.4 2054.7,581.2 2057.7,579.5 2060.7,578.5 2063.7,577.3 2066.7,576.7 2069.7,575.7 2072.7,575.3 2075.7,574 2078.7,572.9 2081.7,572.2 2084.7,571.6 2087.7,571.1 2090.7,569.5 2093.7,569 2096.7,568.4 2099.7,567.6 2102.7,565.5 2105.7,564.3 2108.7,563.7 2111.7,562.9 2114.7,560.9 2117.7,559.9 2120.7,559.3 2123.7,558.5 2126.8,557.4 2129.8,555.9 2132.8,555 2135.8,553.7 2138.8,553 2141.8,552.4 2144.8,552.3 2147.8,551.6 2150.8,550.6 2153.8,549.5 2156.8,548.6 2159.8,548.3 2162.8,547.4 2165.8,546.2 2168.8,546 2171.8,545.2 2174.8,544.8 2177.8,543.6 2180.8,542.7 2183.8,541.5 2186.8,540.7 2189.8,540.3 2192.8,539.8 2195.8,538.6 2198.9,537.3 2201.9,535.8 2204.9,535.7 2207.9,534.7 2210.9,533.8 2213.9,532.5 2216.9,531.4 2219.9,531 2222.9,531.3 2225.9,530.7 2228.9,530 2231.9,529.2 2234.9,527.9 2237.9,526.7 2240.9,526.3 2243.9,525 2246.9,524.7 2249.9,524.1 2252.9,523.5 2255.9,522.2 2258.9,521.1 2261.9,520.8 2264.9,519.9 2267.9,519.9 2271,519.2 2274,519.1 2277,518.9 2280,518.5 2283,517.9 2286,516.9 2289,516.4 2292,516.8 2295,515.7 2298,514.9 2301,514.4 2304,513.9 2307,513.6 2310,512.4 2313,512.3 2316,510.6 2319,510.4 2322,509.7 2325,509.4 2328,507.9 2331,507.6 2334,507.6 2337,507 2340,505.7 2343.1,506 2346.1,506 2349.1,504.7 2352.1,504.8 2355.1,503.6 2358.1,502.8 2361.1,503.1 2364.1,502.9 2367.1,502.7 2370.1,501.8 2373.1,500.7 2376.1,499.3 2379.1,498.5 2382.1,500.4 2385,501.5 2388,502.9 2390.9,503.3 2393.9,504.9 2396.9,506.2 2399.8,506.4 2402.8,508 2405.8,508.4 2408.7,509 2411.7,509.6 2414.7,511.1 2417.6,511.6 2420.6,513.4 2423.5,513.5 2426.5,514.9" fill="none" stroke="#e07b0a" stroke-width="5.38" stroke-linejoin="round" stroke-dasharray="19.9 8.6" stroke-linecap="butt"/>
<polyline points="1414,1005.2 1417,1004 1419.9,1001.8 1422.9,1000.9 1425.9,998.8 1428.9,997.5 1431.8,995.5 1434.8,994.5 1437.8,992.5 1440.7,991.5 1443.7,990.1 1446.7,988.6 1449.7,986.5 1452.6,984.9 1455.6,983.1 1458.6,980 1461.5,977.9 1464.5,976.3 1467.5,974.3 1470.5,972.1 1473.4,969.8 1476.4,968.4 1479.4,965.5 1482.3,963.8 1485.3,961.9 1488.3,959 1491.3,956.5 1494.2,954.1 1497.2,951.8 1500.2,948.1 1503.1,945.4 1506.1,942.5 1509,938.9 1512,936.3 1515,932.6 1517.9,929.3 1520.9,926.8 1523.8,924.3 1526.8,921.7 1529.7,919.2 1532.7,916.4 1535.7,912.8 1538.6,910 1541.6,907.1 1544.5,903 1547.5,899.7 1550.5,895.9 1553.4,892.4 1556.4,889.5 1559.3,886.7 1562.3,884.3 1565.2,880.9 1568.2,878.4 1571.2,876.7 1574.1,874.6 1577.1,872.2 1580,869.6 1583,867.7 1586,865.4 1589,863.8 1592,862.1 1595,860 1598,858.5 1601,856.4 1604,854.4 1607,852.8 1610,850.4 1613,848 1616,846.4 1619,844.4 1622.1,843.1 1625.1,840.8 1628.1,839 1631.1,837 1634.1,835.7 1637.1,834.1 1640.1,832.8 1643.1,831.7 1646.1,829.4 1649.1,828.5 1652.1,826.8 1655.1,825.1 1658.1,822.9 1661.1,821 1664.1,818.9 1667.1,816.9 1670.1,814.7 1673.1,812.7 1676.1,810.7 1679.1,808.8 1682.1,807.6 1685.1,805.9 1688.1,804.1 1691.1,801.6 1694.2,799.8 1697.2,798.4 1700.2,797.1 1703.2,795.3 1706.2,793.8 1709.2,792.6 1712.2,790.3 1715.2,788.5 1718.2,787.3 1721.2,785.3 1724.2,784 1727.2,782.1 1730.2,779.9 1733.2,778.5 1736.2,776.5 1739.2,775.5 1742.2,774.3 1745.2,772.4 1748.2,771.1 1751.2,768.8 1754.2,767.1 1757.2,765.1 1760.2,763.2 1763.2,762.3 1766.3,760.1 1769.3,759.2 1772.3,757.6 1775.3,756.2 1778.3,754 1781.3,753.3 1784.3,752.3 1787.3,750.3 1790.3,748.8 1793.3,747.4 1796.3,746.6 1799.3,745 1802.3,744.5 1805.3,743.3 1808.3,742.3 1811.3,740.6 1814.3,739.5 1817.3,738.1 1820.3,736.9 1823.3,735.4 1826.3,734.6 1829.3,733.4 1832.3,732.1 1835.3,730.2 1838.4,728.4 1841.4,726.9 1844.4,725.6 1847.4,725.4 1850.4,724 1853.4,723.4 1856.4,721.9 1859.4,721 1862.4,719.7 1865.4,718.5 1868.4,717.9 1871.4,716.9 1874.4,716.2 1877.4,714.4 1880.4,713 1883.4,711.4 1886.4,710.2 1889.4,709.9 1892.4,708.6 1895.4,707.3 1898.4,705.9 1901.4,705.1 1904.4,704 1907.4,702.2 1910.5,700.6 1913.5,699.3 1916.5,698.9 1919.5,697.9 1922.5,696.3 1925.5,694.8 1928.5,693.6 1931.5,692.9 1934.5,692 1937.5,690.4 1940.5,689.2 1943.5,687.9 1946.5,687.6 1949.5,686.5 1952.5,685.8 1955.5,684.2 1958.5,683.2 1961.5,682.2 1964.5,681.5 1967.5,680 1970.5,678.4 1973.5,677.8 1976.5,677 1979.5,675.5 1982.6,674 1985.6,672.3 1988.6,671.3 1991.6,670.8 1994.6,669.2 1997.6,668 2000.6,667 2003.6,665.5 2006.6,664.1 2009.6,663.3 2012.6,663 2015.6,662.2 2018.6,660.5 2021.6,659.8 2024.6,658.9 2027.6,657.6 2030.6,656.2 2033.6,654.8 2036.6,654.1 2039.6,653.3 2042.6,651.7 2045.6,650.4 2048.6,649.1 2051.6,648.8 2054.7,648.2 2057.7,647 2060.7,646 2063.7,645.2 2066.7,643.7 2069.7,643 2072.7,642.2 2075.7,642 2078.7,640.6 2081.7,640.4 2084.7,639.1 2087.7,638.6 2090.7,638.3 2093.7,636.8 2096.7,636.2 2099.7,634.9 2102.7,634.5 2105.7,633.9 2108.7,633.8 2111.7,632.8 2114.7,632.4 2117.7,631.6 2120.7,631 2123.7,629.7 2126.8,628.4 2129.8,627.9 2132.8,626.7 2135.8,626.2 2138.8,625 2141.8,624.4 2144.8,623.9 2147.8,623.4 2150.8,621.8 2153.8,620.5 2156.8,619.8 2159.8,619.6 2162.8,618.2 2165.8,617.4 2168.8,616.5 2171.8,615.3 2174.8,614.9 2177.8,614.1 2180.8,613.5 2183.8,613.1 2186.8,612.5 2189.8,611.3 2192.8,610.8 2195.8,610.1 2198.9,609.7 2201.9,608.2 2204.9,607.6 2207.9,607.4 2210.9,606.9 2213.9,606.2 2216.9,605.7 2219.9,605.2 2222.9,604.8 2225.9,604.4 2228.9,603.9 2231.9,603.5 2234.9,602.7 2237.9,601.6 2240.9,601 2243.9,601.1 2246.9,600.8 2249.9,600.3 2252.9,599.2 2255.9,598.5 2258.9,598.4 2261.9,597.9 2264.9,597.1 2267.9,597.3 2271,596.3 2274,596.3 2277,595.6 2280,595.4 2283,594.7 2286,593.4 2289,592.5 2292,592.5 2295,591.7 2298,591.2 2301,590.9 2304,590.4 2307,590.1 2310,589.4 2313,588.6 2316,588.5 2319,587.5 2322,587.5 2325,587.4 2328,586.3 2331,585.4 2334,585.8 2337,584.9 2340,584.6 2343.1,584 2346.1,583.2 2349.1,582.8 2352.1,582.1 2355.1,582.5 2358.1,582.3 2361.1,582 2364.1,580.8 2367.1,580 2370.1,579.1 2373.1,579.1 2376.1,578.9 2379.1,578.4 2382.1,578.3 2385,578.1 2388,577.8 2390.9,577.2 2393.9,576.8 2396.9,577.4 2399.8,578.1 2402.8,578.6 2405.8,578.3 2408.7,578.4 2411.7,578.9 2414.7,578.6 2417.6,579.1 2420.6,579.3 2423.5,579.3 2426.5,579.5" fill="none" stroke="#1d6a9c" stroke-width="5.38" stroke-linejoin="round" stroke-dasharray="5.38 8.88" stroke-linecap="butt"/>
<polyline points="1415,1000.8 1418,1000.5 1421.1,1000 1424.1,998.6 1427.2,998.3 1430.2,997.5 1433.3,996 1436.3,995.9 1439.4,994.5 1442.4,993.3 1445.4,992.3 1448.5,991.4 1451.5,989.7 1454.6,988.9 1457.6,988.1 1460.7,986.7 1463.7,985.6 1466.8,984.3 1469.8,983.2 1472.8,981.2 1475.9,979.8 1478.9,978.5 1482,976.7 1485,976.1 1488.1,974.5 1491.1,972.1 1494.2,970.5 1497.2,968.1 1500.2,965.6 1503.1,963.2 1506.1,961.2 1509,958.7 1512,956.9 1515,954.8 1517.9,952.1 1520.9,950.4 1523.8,947.3 1526.8,944.6 1529.7,942.7 1532.7,939.8 1535.7,937.2 1538.6,934.9 1541.6,932.3 1544.5,930 1547.5,927.7 1550.5,925.5 1553.4,922.9 1556.4,921.4 1559.3,919.1 1562.3,916.6 1565.2,914.7 1568.2,913.2 1571.2,911.1 1574.1,908.8 1577.1,906.6 1580,904.2 1583,902.1 1586,900.6 1589,898.8 1592,897.4 1595,895.9 1598,895.2 1601,894.3 1604,893 1607,891 1610,889.1 1613,888.4 1616,886.6 1619,884.7 1622.1,883.6 1625.1,882.5 1628.1,881.3 1631.1,880 1634.1,878.6 1637.1,877.6 1640.1,876.4 1643.1,875.5 1646.1,874.2 1649.1,872.8 1652.1,872.2 1655.1,870.2 1658.1,869.3 1661.1,867.6 1664.1,866.5 1667.1,864.9 1670.1,863 1673.1,861.3 1676.1,859 1679.1,856.8 1682.1,855.7 1685.1,853.9 1688.1,852 1691.1,851.2 1694.2,849.9 1697.2,847.8 1700.2,846.7 1703.2,845 1706.2,844.3 1709.2,842.5 1712.2,841.8 1715.2,840.4 1718.2,838.4 1721.2,837.2 1724.2,836.7 1727.2,835.5 1730.2,833.7 1733.2,832.4 1736.2,831.1 1739.2,829.6 1742.2,828.8 1745.2,828 1748.2,826.4 1751.2,825.4 1754.2,824.7 1757.2,823.7 1760.2,821.8 1763.2,820.1 1766.3,819.7 1769.3,818.2 1772.3,816.7 1775.3,816.2 1778.3,814.7 1781.3,814.1 1784.3,813.3 1787.3,812 1790.3,811.1 1793.3,809.9 1796.3,809.6 1799.3,808.3 1802.3,807.2 1805.3,806.9 1808.3,805.6 1811.3,804.7 1814.3,803.9 1817.3,802.4 1820.3,801.6 1823.3,801.2 1826.3,800.9 1829.3,799.5 1832.3,798.6 1835.3,797.1 1838.4,796.5 1841.4,795.5 1844.4,794.8 1847.4,793.7 1850.4,792.8 1853.4,792.5 1856.4,791.8 1859.4,790.5 1862.4,789 1865.4,787.9 1868.4,786.9 1871.4,786 1874.4,785.7 1877.4,785.1 1880.4,784 1883.4,783.9 1886.4,783.3 1889.4,782.6 1892.4,782.1 1895.4,780.8 1898.4,780.5 1901.4,780 1904.4,779.3 1907.4,777.4 1910.5,777 1913.5,776.5 1916.5,774.8 1919.5,774.4 1922.5,773.7 1925.5,771.9 1928.5,771.4 1931.5,770.8 1934.5,770.1 1937.5,768.5 1940.5,768.4 1943.5,766.9 1946.5,765.7 1949.5,765.8 1952.5,765 1955.5,763.8 1958.5,763.1 1961.5,762.6 1964.5,761.6 1967.5,761.5 1970.5,760.7 1973.5,759.6 1976.5,758.7 1979.5,757.6 1982.6,757.6 1985.6,756.5 1988.6,756.3 1991.6,755.4 1994.6,754.5 1997.6,753.3 2000.6,752.8 2003.6,751.7 2006.6,751.3 2009.6,751 2012.6,751 2015.6,749.8 2018.6,748.9 2021.6,748.9 2024.6,747.8 2027.6,747 2030.6,746.7 2033.6,746.1 2036.6,746.2 2039.6,744.9 2042.6,744.9 2045.6,744.1 2048.6,743 2051.6,742.3 2054.7,742.4 2057.7,741.3 2060.7,740.8 2063.7,739.8 2066.7,739.6 2069.7,739.6 2072.7,739.3 2075.7,738.5 2078.7,738 2081.7,738 2084.7,737.8 2087.7,737 2090.7,735.9 2093.7,736.1 2096.7,735.2 2099.7,734.7 2102.7,733.6 2105.7,732.7 2108.7,732.1 2111.7,732 2114.7,731.3 2117.7,731.3 2120.7,730.2 2123.7,730 2126.8,728.8 2129.8,728.4 2132.8,728.5 2135.8,727.5 2138.8,726.7 2141.8,725.7 2144.8,725.9 2147.8,725.2 2150.8,724.3 2153.8,723.9 2156.8,723.1 2159.8,723.1 2162.8,722.3 2165.8,721.3 2168.8,720.7 2171.8,719.9 2174.8,720.2 2177.8,719.3 2180.8,719.1 2183.8,718.9 2186.8,718 2189.8,717.9 2192.8,717.7 2195.8,717.7 2198.9,717.5 2201.9,717.2 2204.9,716.3 2207.9,715.6 2210.9,714.9 2213.9,714 2216.9,713.9 2219.9,714.1 2222.9,713.4 2225.9,713.2 2228.9,712.3 2231.9,711.7 2234.9,711.4 2237.9,711.7 2240.9,711 2243.9,710.9 2246.9,710 2249.9,710.2 2252.9,709.8 2255.9,710 2258.9,708.8 2261.9,708.3 2264.9,708.6 2267.9,708.1 2271,707.3 2274,707.5 2277,706.8 2280,706.7 2283,706.1 2286,705 2289,704.2 2292,704.5 2295,704.6 2298,703.5 2301,703.8 2304,703.6 2307,703 2310,702.8 2313,702.3 2316,701.3 2319,701 2322,700.7 2325,701.1 2328,700.4 2331,700.5 2334,700.3 2337,699.6 2340,699.5 2343.1,699.5 2346.1,699.7 2349.1,699.2 2352.1,699.7 2355.1,699.6 2358.1,698.5 2361.1,698.8 2364.1,698.5 2367.1,698.4 2370.1,697.2 2373.1,696.9 2376.1,696.2 2379.1,695.1 2382.1,695.6 2385,696.5 2388,697.8 2390.9,698.5 2393.9,699 2396.9,699.7 2399.8,700.4 2402.8,700.6 2405.8,700.9 2408.7,700.4 2411.7,701.2 2414.7,701.8 2417.6,701.8 2420.6,701.9 2423.5,702.4 2426.5,702" fill="none" stroke="#cc4b3a" stroke-width="5.38" stroke-linejoin="round" stroke-dasharray="34.4 8.6 5.38 8.6" stroke-linecap="butt"/>
<polyline points="1413.5,1007.5 1416.5,1006.7 1419.5,1005.9 1422.5,1005.5 1425.5,1004.5 1428.4,1004.3 1431.4,1003.9 1434.4,1002.7 1437.4,1002.3 1440.4,1001.6 1443.4,1001 1446.4,1000.5 1449.4,999.9 1452.4,998.7 1455.3,998.1 1458.3,997.3 1461.3,996.7 1464.3,995.2 1467.3,994.8 1470.3,993.6 1473.3,992.5 1476.3,992 1479.3,991.5 1482.3,991 1485.2,989.8 1488.2,989.2 1491.2,987.9 1494.2,987.6 1497.2,986.5 1500.2,985.2 1503.2,983.6 1506.2,982 1509.2,980.6 1512.2,979.6 1515.2,978.5 1518.1,977.4 1521.1,976.2 1524.1,974.5 1527.1,973.3 1530.1,971.5 1533.1,970.5 1536.1,968.7 1539.1,967.7 1542.1,966.1 1545.1,964.6 1548.1,963.2 1551.1,961.5 1554.1,960 1557,958.9 1560,957.8 1563,956 1566,954.7 1569,953.3 1572,952.3 1575,951.4 1578,949.6 1581,948.5 1584,947 1587,946.2 1590,945.3 1593,944 1596,942.7 1599,941.1 1602,939.8 1605,938.7 1608,937.5 1611,936.5 1614,936.1 1617,935 1620,934.3 1623,933.4 1626,932.5 1629,931.6 1632,930.5 1635,929.2 1638,928.1 1641,927 1644,925.7 1647,924.5 1650,923.9 1653,923 1656,922.4 1659,921.4 1662,920.5 1665,919.3 1668,918.3 1671,917.6 1674,916.1 1677,914.8 1680,914 1683,913 1686,912.1 1689,910.8 1692,909.7 1695,908.6 1698,907.9 1701,906.6 1704,905.4 1707,904.8 1710,903.8 1713,902.5 1716,902.1 1719,901.1 1722,900.5 1725,899.5 1728,898.5 1731,897.5 1734,896.2 1737,895.9 1740,894.8 1743,893.7 1746,892.6 1749,892 1752,891.5 1755,890.4 1758,889.7 1761,888.8 1764,887.7 1767,886.9 1770,886 1773,885.4 1776,883.9 1779,882.9 1782,882 1785,881.1 1788,880.4 1791,879.8 1794,879 1797,878.4 1800,877.4 1803,877.2 1806,876.6 1809,875.4 1812,874.5 1815,874.1 1818,873.1 1821,872.7 1824,871.5 1827,871 1830,870.5 1833,869.7 1836,869.2 1839,868.6 1842,868 1845,866.6 1848,865.9 1851,864.8 1854,864.4 1857,863.4 1860,862.5 1863,861.6 1866,860.7 1869,860.1 1872,859.4 1875,858.9 1878,858.5 1881,857.9 1884,856.8 1887,855.9 1890,855.5 1893,854.5 1896,853.9 1899,853.5 1902,852.6 1905,851.7 1908,850.5 1911,849.8 1914,849.5 1917,848.4 1920,847.4 1923,847 1926,846.2 1929,845.6 1932,844.7 1935,843.9 1938,843.2 1941,842.9 1944,842.4 1947,841.4 1950,841.1 1953,840.7 1956,839.9 1959,839 1962,838.1 1965,838.2 1968,837.2 1971,836.3 1974,835.6 1977,835.6 1980.1,835.4 1983.1,834.8 1986.1,834.4 1989.1,833.7 1992.1,832.5 1995.1,831.9 1998.1,831.6 2001.1,831.2 2004.1,830.9 2007.1,830.5 2010.1,829.7 2013.1,829.3 2016.1,829.4 2019.1,829 2022.1,828.3 2025.1,828 2028.1,828.1 2031.1,827.4 2034.1,826.8 2037.1,826.9 2040.1,826.7 2043.1,826.2 2046.1,825.9 2049.1,825.5 2052.1,825.4 2055.1,825 2058.1,824.7 2061.1,824.7 2064.1,824.3 2067.1,823.5 2070.1,822.7 2073.1,822.3 2076.1,821.4 2079.1,821.2 2082.1,820.6 2085.1,820 2088.1,819.2 2091.1,818.9 2094.1,818.3 2097.1,817.7 2100.1,817 2103.1,816.3 2106.1,815.7 2109.1,815.3 2112.1,815.3 2115.1,815 2118.1,814.3 2121.1,813.6 2124.1,813.2 2127.1,813 2130.1,812.4 2133.1,811.9 2136.1,811.1 2139.1,811 2142.1,810.4 2145.1,809.7 2148.1,809.5 2151.1,808.7 2154.1,807.8 2157.1,807.4 2160.1,807.2 2163.1,806.5 2166.1,806.3 2169.1,805.7 2172.1,805 2175.1,804.8 2178.1,804.2 2181.1,804.4 2184.1,804 2187.1,803.2 2190.1,802.9 2193.1,802.9 2196.1,802.9 2199.1,802.7 2202.1,802 2205.1,801.8 2208.1,801.2 2211.1,800.7 2214.1,800.5 2217.1,800 2220.1,799.4 2223.1,798.5 2226.1,798.1 2229.1,798 2232.1,797.5 2235.1,796.8 2238.1,796.9 2241.1,796.5 2244.1,796.4 2247.1,795.9 2250.1,795.5 2253.1,795.3 2256.1,795 2259.1,795.1 2262.1,794.6 2265.1,794.1 2268.1,793.8 2271.1,793.7 2274.1,793.5 2277.1,792.7 2280.1,792.5 2283.1,792.5 2286.1,792.1 2289.1,791.5 2292.1,791 2295.1,790.9 2298.1,790.9 2301.1,790.8 2304.1,790.2 2307.1,789.5 2310.1,789.3 2313.1,789.2 2316.1,788.9 2319.1,788.6 2322.1,788.1 2325.1,787.9 2328.1,787.4 2331.1,787.4 2334.1,786.9 2337.1,786.5 2340.1,786.7 2343.1,786 2346.1,785.7 2349.1,785.6 2352.1,785 2355.1,784.8 2358.1,785 2361.1,784.8 2364.1,784.4 2367.1,784.1 2370.1,783.9 2373.1,784.2 2376.1,783.9 2379.1,784.2 2382.1,784.6 2385,784.3 2388,784.6 2390.9,784.9 2393.9,784.9 2396.9,785.4 2399.8,785.2 2402.8,785.4 2405.8,785.6 2408.7,785.7 2411.7,786.5 2414.7,786.3 2417.6,786.6 2420.6,787.4 2423.5,787.4 2426.5,787.8" fill="none" stroke="#35a6a3" stroke-width="5.38" stroke-linejoin="round" stroke-linecap="square"/>
<line x1="1497.2" y1="1010.5" x2="1497.2" y2="40.4" stroke="#000" stroke-opacity="0.3" stroke-width="5.38" stroke-dasharray="19.8 8.57"/>
<line x1="2379.1" y1="1010.5" x2="2379.1" y2="40.4" stroke="#000" stroke-opacity="0.3" stroke-width="5.38" stroke-dasharray="19.8 8.57"/>
</g>
<rect x="177.5" y="40.4" width="1022.7" height="970.1" fill="none" stroke="#000" stroke-width="2.87"/>
<rect x="1403.6" y="40.4" width="1022.9" height="970.1" fill="none" stroke="#000" stroke-width="2.87"/>
<path d="M165 1010.5H177.5M165 848.8H177.5M165 687.1H177.5M165 525.5H177.5M165 363.8H177.5M165 202.1H177.5M165 40.4H177.5M1391.1 1010.5H1403.6M1391.1 871.9H1403.6M1391.1 733.3H1403.6M1391.1 594.7H1403.6M1391.1 456.2H1403.6M1391.1 317.6H1403.6M1391.1 179H1403.6M1391.1 40.4H1403.6M177.5 1010.5V1023M1403.6 1010.5V1023M486.8 1010.5V1023M1713.8 1010.5V1023M796.1 1010.5V1023M2024 1010.5V1023M1105.4 1010.5V1023M2334.2 1010.5V1023" stroke="#000" stroke-width="2.87" fill="none"/>
<g font-family="DejaVu Sans, Liberation Sans, sans-serif" font-size="50.2" fill="#000">
<text x="152.5" y="1028.5" text-anchor="end" stroke="#ffffff" stroke-width="0.6">0</text>
<text x="152.5" y="866.8" text-anchor="end" stroke="#ffffff" stroke-width="0.6">5</text>
<text x="152.5" y="705.1" text-anchor="end" stroke="#ffffff" stroke-width="0.6">10</text>
<text x="152.5" y="543.5" text-anchor="end" stroke="#ffffff" stroke-width="0.6">15</text>
<text x="152.5" y="381.8" text-anchor="end" stroke="#ffffff" stroke-width="0.6">20</text>
<text x="152.5" y="220.1" text-anchor="end" stroke="#ffffff" stroke-width="0.6">25</text>
<text x="152.5" y="58.4" text-anchor="end" stroke="#ffffff" stroke-width="0.6">30</text>
<text x="1378.6" y="1028.5" text-anchor="end">0.0</text>
<text x="1378.6" y="889.9" text-anchor="end">0.5</text>
<text x="1378.6" y="751.3" text-anchor="end">1.0</text>
<text x="1378.6" y="612.7" text-anchor="end">1.5</text>
<text x="1378.6" y="474.2" text-anchor="end">2.0</text>
<text x="1378.6" y="335.6" text-anchor="end">2.5</text>
<text x="1378.6" y="197" text-anchor="end">3.0</text>
<text x="1378.6" y="58.4" text-anchor="end">3.5</text>
<text x="177.5" y="1073.6" text-anchor="middle" stroke="#ffffff" stroke-width="0.6">0</text>
<text x="1403.6" y="1073.6" text-anchor="middle" stroke="#ffffff" stroke-width="0.6">0</text>
<text x="486.8" y="1073.6" text-anchor="middle" stroke="#ffffff" stroke-width="0.6">1000</text>
<text x="1713.8" y="1073.6" text-anchor="middle" stroke="#ffffff" stroke-width="0.6">1000</text>
<text x="796.1" y="1073.6" text-anchor="middle" stroke="#ffffff" stroke-width="0.6">2000</text>
<text x="2024" y="1073.6" text-anchor="middle" stroke="#ffffff" stroke-width="0.6">2000</text>
<text x="1105.4" y="1073.6" text-anchor="middle" stroke="#ffffff" stroke-width="0.6">3000</text>
<text x="2334.2" y="1073.6" text-anchor="middle" stroke="#ffffff" stroke-width="0.6">3000</text>
<text x="688.9" y="1136.6" text-anchor="middle" stroke="#ffffff" stroke-width="0.6">Time [s]</text>
<text x="1915" y="1136.6" text-anchor="middle" stroke="#ffffff" stroke-width="0.6">Time [s]</text>
<text transform="translate(63.5 525.5) rotate(-90)" text-anchor="middle" stroke="#ffffff" stroke-width="0.6">µg/g of printed object</text>
</g>
<g font-family="DejaVu Sans, Liberation Sans, sans-serif" font-size="43.0" fill="#000">
<text x="332" y="434.3" stroke="#ffffff" stroke-width="0.6">printing starts</text>
<text x="808" y="532.2" stroke="#ffffff" stroke-width="0.6">printing ends</text>
</g>
<g fill="none" stroke="#808080" stroke-width="2.4" stroke-linecap="butt" stroke-linejoin="miter">
<path d="M449 390.3Q378 335 279.2 324.7"/>
<path d="M300 315.5L279.2 324.7L297.5 336.5"/>
<path d="M982.4 551.8Q1040 604 1143.9 617.5"/>
<path d="M1123.5 606.4L1143.9 617.5L1123.5 626"/>
</g>
<rect x="201.6" y="65" width="374.6" height="89.3" rx="5.5" ry="5.5" fill="#ffffff" fill-opacity="0.8" stroke="#cccccc" stroke-width="2.2"/>
<line x1="222.1" y1="106.9" x2="322.3" y2="106.9" stroke="#5e3c99" stroke-width="5.38" stroke-linecap="square"/>
<text x="361" y="123.5" font-family="DejaVu Sans, Liberation Sans, sans-serif" font-size="50.2" stroke="#ffffff" stroke-width="0.6">Styrene</text>
<rect x="1428.4" y="64.8" width="499.4" height="385.1" rx="5.5" ry="5.5" fill="#ffffff" fill-opacity="0.8" stroke="#cccccc" stroke-width="2.2"/>
<line x1="1448.6" y1="106.9" x2="1549.1" y2="106.9" stroke="#5e3c99" stroke-width="5.38" stroke-linecap="square"/>
<text x="1589.3" y="122.4" font-family="DejaVu Sans, Liberation Sans, sans-serif" font-size="50.2" stroke="#fdfdfd" stroke-width="0.6">Toluene</text>
<line x1="1448.6" y1="180" x2="1549.1" y2="180" stroke="#e07b0a" stroke-width="5.38" stroke-linecap="butt" stroke-dasharray="19.9 8.6"/>
<text x="1589.3" y="194.8" font-family="DejaVu Sans, Liberation Sans, sans-serif" font-size="50.2" stroke="#fdfdfd" stroke-width="0.6">Allylbenzene</text>
<line x1="1448.6" y1="253.2" x2="1548" y2="253.2" stroke="#1d6a9c" stroke-width="5.38" stroke-linecap="butt" stroke-dasharray="5.38 8.88"/>
<text x="1589.3" y="269.2" font-family="DejaVu Sans, Liberation Sans, sans-serif" font-size="50.2" stroke="#fdfdfd" stroke-width="0.6">m/z 107<tspan font-style="italic" font-size="35.1" dx="0" dy="-19.2">a</tspan></text>
<line x1="1448.6" y1="329" x2="1548" y2="329" stroke="#cc4b3a" stroke-width="5.38" stroke-linecap="butt" stroke-dasharray="34.4 8.6 5.38 8.6"/>
<text x="1589.3" y="344.8" font-family="DejaVu Sans, Liberation Sans, sans-serif" font-size="50.2" stroke="#fdfdfd" stroke-width="0.6">m/z 121<tspan font-style="italic" font-size="35.1" dx="0" dy="-19.2">b</tspan></text>
<line x1="1448.6" y1="402.3" x2="1549.1" y2="402.3" stroke="#35a6a3" stroke-width="5.38" stroke-linecap="square"/>
<text x="1589.3" y="418" font-family="DejaVu Sans, Liberation Sans, sans-serif" font-size="50.2" stroke="#fdfdfd" stroke-width="0.6">Benzene<tspan font-style="italic" font-size="35.1" dx="0" dy="-19.2">c</tspan></text>
</svg>
</body></html>
